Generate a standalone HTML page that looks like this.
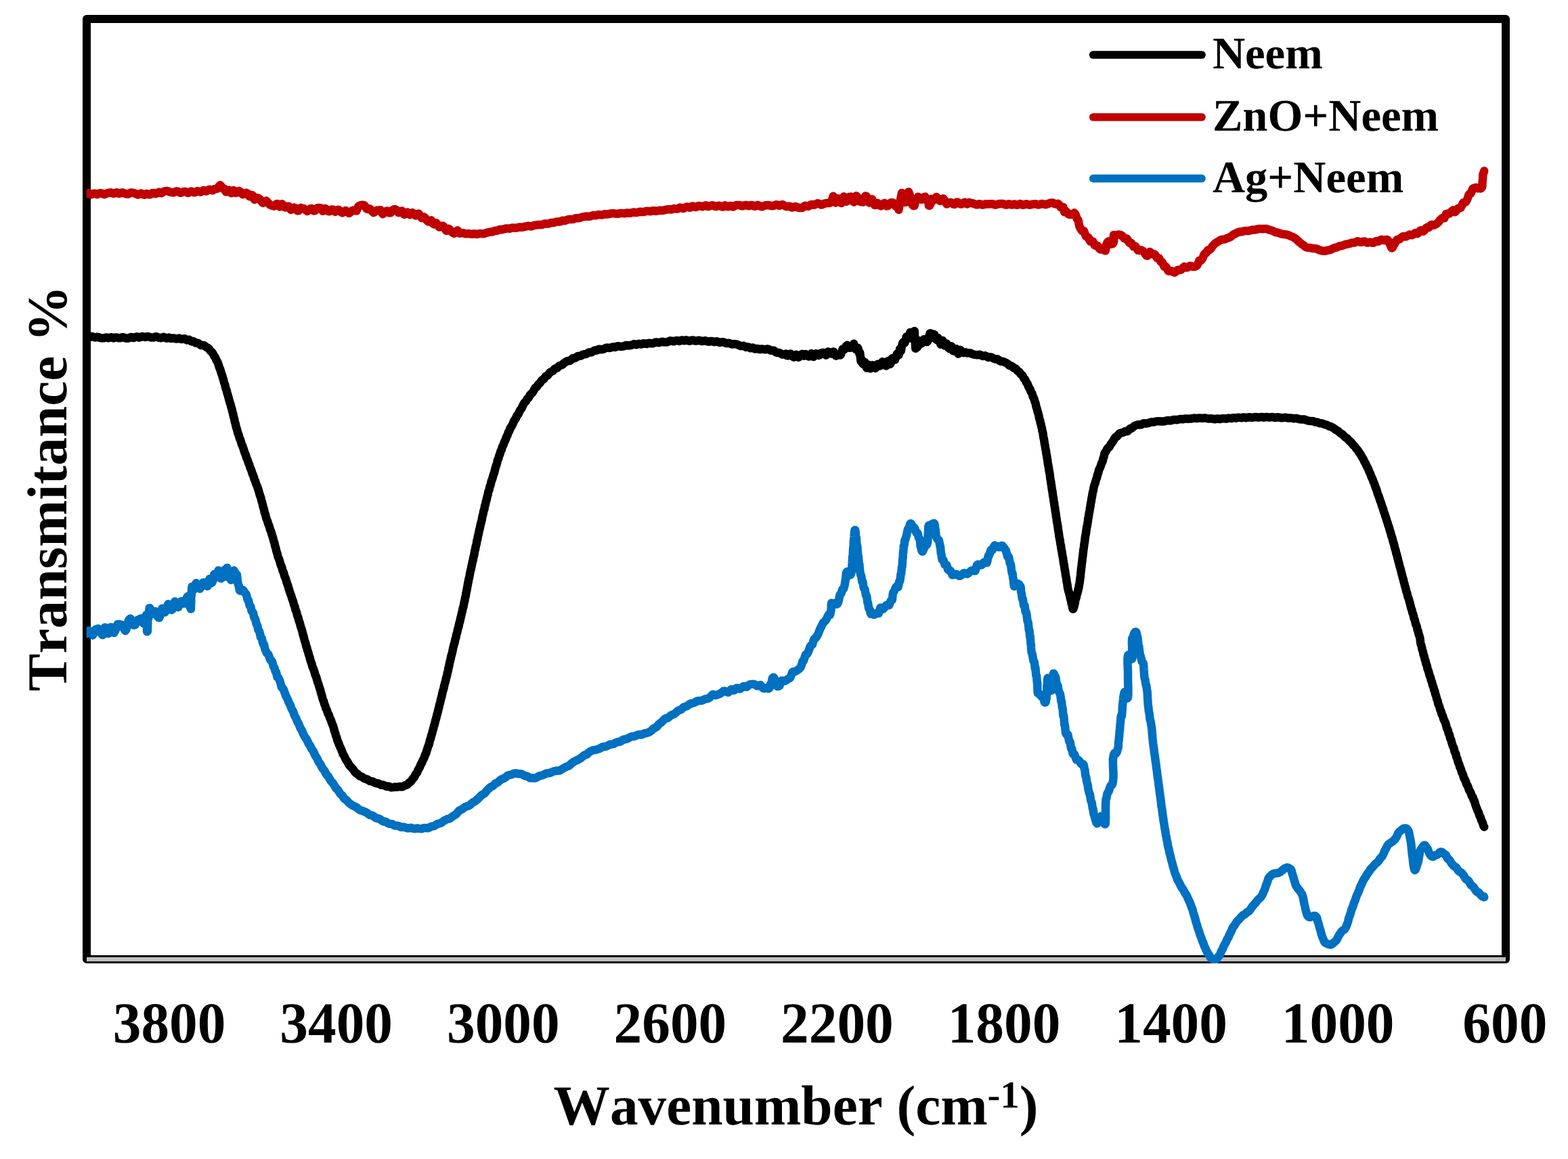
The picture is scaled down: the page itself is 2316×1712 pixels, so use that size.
<!DOCTYPE html>
<html lang="en"><head><meta charset="utf-8"><title>FTIR spectra</title>
<style>
html,body{margin:0;padding:0;background:#fff;}
body{width:2316px;height:1712px;overflow:hidden;}
svg{display:block;}
text{font-family:"Liberation Serif","DejaVu Serif",serif;font-weight:bold;fill:#000;font-kerning:none;font-variant-ligatures:none;text-rendering:geometricPrecision;}
.tick{font-size:83.33px;text-anchor:middle;}
.title{font-size:83.33px;text-anchor:middle;}
.leg{font-size:66.67px;}
.curve{fill:none;stroke-linejoin:round;stroke-linecap:round;stroke-width:12.5;}
</style></head>
<body>
<svg width="2316" height="1712" viewBox="0 0 2316 1712">
<defs><clipPath id="plot"><rect x="127.5" y="22" width="2103" height="1401"/></clipPath></defs>
<rect x="0" y="0" width="2316" height="1712" fill="#fff"/>
<rect x="128.00" y="28.00" width="2096.00" height="1389.00" fill="none" stroke="#000" stroke-width="12.00" stroke-linejoin="round"/>
<rect x="128" y="1413.9" width="2096" height="6.2" fill="#bfbfbf"/>
<g clip-path="url(#plot)">
<path class="curve" stroke="#c00000" d="M127.5,286.3 L127.7,286.2 L128.2,286.0 L129.1,285.7 L130.2,285.3 L131.6,285.2 L133.2,286.2 L134.9,287.3 L136.9,286.6 L138.9,285.7 L141.1,285.9 L143.3,287.2 L145.5,286.2 L147.7,285.3 L149.9,285.4 L152.0,286.5 L154.0,287.3 L155.8,286.5 L157.5,285.8 L159.2,285.1 L160.9,284.8 L162.6,284.6 L164.3,284.5 L165.9,285.2 L167.5,286.0 L169.2,285.6 L170.8,284.7 L172.4,284.3 L174.0,285.2 L175.7,286.0 L177.4,285.4 L179.0,284.7 L180.8,284.4 L182.5,285.1 L184.1,285.7 L185.6,286.4 L187.2,286.6 L188.8,286.7 L190.4,286.2 L192.0,285.1 L193.7,284.5 L195.3,284.7 L196.9,284.9 L198.6,285.3 L200.3,286.1 L201.9,286.9 L203.6,287.7 L205.3,287.1 L206.9,286.3 L208.6,285.6 L210.2,286.5 L211.8,287.3 L213.4,287.8 L215.0,287.0 L216.7,286.0 L218.4,286.7 L220.1,287.6 L221.7,287.3 L223.4,286.3 L225.0,285.3 L226.6,285.1 L228.3,285.7 L229.9,286.3 L231.5,285.6 L233.2,284.6 L234.8,283.8 L236.5,284.7 L238.2,285.3 L239.9,284.3 L241.6,283.2 L243.3,282.4 L245.1,282.2 L246.6,282.0 L248.2,282.3 L249.8,283.1 L251.4,283.9 L253.1,284.2 L254.8,284.3 L256.5,284.4 L258.2,283.7 L259.9,282.8 L261.6,282.4 L263.3,283.2 L265.0,284.0 L266.7,284.8 L268.4,284.4 L270.1,283.6 L271.7,282.9 L273.4,282.9 L275.0,283.7 L276.6,284.5 L278.1,285.0 L279.6,284.1 L281.1,283.2 L282.6,282.5 L284.4,283.4 L286.1,284.2 L287.9,284.2 L289.6,283.3 L291.2,282.3 L292.9,282.5 L294.5,283.1 L296.1,283.7 L297.6,282.9 L299.2,282.0 L300.7,281.0 L302.2,281.6 L303.6,282.4 L305.1,282.4 L306.9,281.2 L308.8,280.0 L310.6,279.9 L312.5,280.9 L314.2,281.3 L315.9,280.0 L317.4,279.0 L318.8,279.1 L320.1,279.0 L321.6,278.4 L322.8,276.4 L323.9,274.6 L325.1,273.5 L326.2,274.3 L327.3,276.1 L328.4,277.8 L329.7,278.4 L331.0,278.5 L332.6,281.5 L333.9,283.4 L335.2,282.9 L336.7,281.9 L338.3,280.7 L339.9,282.9 L341.6,285.2 L343.3,283.4 L345.0,281.1 L346.7,282.1 L348.4,284.9 L350.1,284.6 L351.7,283.4 L353.4,282.2 L355.2,283.2 L356.9,285.2 L358.6,287.3 L360.4,286.8 L362.1,285.9 L363.8,284.9 L365.5,285.7 L367.1,288.4 L368.6,290.2 L370.1,289.2 L371.7,288.1 L373.1,288.5 L374.5,292.2 L375.9,294.9 L377.2,294.0 L378.5,293.2 L379.9,292.3 L381.2,292.7 L382.6,293.4 L384.1,294.4 L385.6,296.6 L387.1,298.7 L388.5,299.8 L390.1,298.8 L391.7,297.9 L393.3,296.8 L395.1,298.5 L396.5,300.1 L398.0,301.7 L399.6,303.1 L401.2,303.6 L402.9,304.1 L404.6,304.6 L406.3,303.3 L408.0,301.6 L409.8,301.1 L411.6,303.6 L413.3,305.4 L415.1,303.2 L416.8,301.3 L418.5,303.7 L420.1,306.0 L421.8,306.4 L423.4,305.6 L425.0,304.8 L426.6,304.8 L428.2,307.3 L429.7,309.9 L431.3,309.0 L432.9,307.8 L434.5,306.6 L436.1,307.4 L437.7,309.4 L439.3,311.4 L441.0,311.2 L442.6,309.0 L444.2,307.0 L445.7,307.3 L447.3,307.7 L448.9,308.1 L450.6,309.4 L452.2,310.7 L453.8,312.0 L455.5,310.8 L457.1,309.4 L458.8,308.0 L460.4,307.9 L462.1,309.7 L463.7,311.4 L465.3,311.3 L467.0,309.3 L468.6,307.2 L470.2,307.1 L471.9,307.1 L473.6,307.2 L475.2,309.4 L476.9,311.8 L478.6,310.3 L480.2,307.9 L481.9,308.9 L483.6,310.6 L485.2,312.3 L486.9,312.3 L488.5,310.8 L490.2,309.4 L491.8,309.7 L493.5,311.3 L495.2,312.8 L496.9,311.9 L498.6,310.2 L500.3,309.8 L502.0,311.4 L503.8,313.1 L505.5,314.4 L507.3,313.3 L509.0,312.2 L510.7,311.1 L512.4,312.5 L514.0,313.7 L515.6,314.9 L517.2,313.9 L518.7,312.6 L520.2,311.3 L521.9,310.4 L523.5,310.8 L525.0,311.1 L526.5,311.4 L528.0,308.1 L529.4,304.8 L530.8,303.9 L532.2,303.4 L533.7,303.0 L535.2,302.8 L536.7,302.9 L538.1,303.3 L539.6,305.2 L541.0,307.6 L542.5,309.0 L544.0,308.6 L545.5,308.2 L547.0,308.9 L548.6,310.9 L550.2,312.7 L551.7,314.2 L553.4,313.2 L555.0,311.8 L556.7,310.8 L558.4,310.6 L560.2,310.5 L561.9,310.3 L563.6,313.2 L565.3,316.2 L567.0,315.0 L568.6,313.6 L570.2,312.1 L572.0,311.6 L573.7,313.2 L575.4,314.6 L577.0,314.4 L578.7,312.1 L580.3,310.0 L581.9,309.4 L583.6,309.0 L585.2,310.0 L586.9,312.0 L588.6,314.2 L590.3,313.9 L592.0,312.2 L593.6,311.4 L595.3,314.3 L597.0,317.0 L598.6,315.8 L600.2,313.9 L602.0,313.6 L603.8,315.4 L605.5,317.2 L607.3,316.1 L609.0,314.1 L610.8,315.3 L612.7,317.2 L614.1,318.4 L615.6,317.4 L617.0,316.4 L618.5,315.5 L620.0,317.8 L621.6,320.3 L623.1,322.0 L624.7,321.3 L626.3,320.6 L627.9,321.8 L629.5,324.0 L631.1,326.3 L632.7,327.4 L634.1,326.7 L635.6,326.1 L637.0,325.4 L638.5,327.5 L639.9,330.7 L641.4,331.4 L642.9,330.1 L644.4,329.4 L645.9,331.4 L647.4,333.5 L648.9,335.5 L650.4,335.2 L651.9,334.4 L653.4,333.6 L654.8,333.9 L656.3,336.2 L657.7,338.4 L659.4,340.9 L661.1,339.4 L662.7,337.7 L664.4,339.2 L666.0,341.1 L667.6,343.0 L669.3,344.0 L670.9,344.8 L672.5,343.6 L674.1,341.9 L675.8,340.2 L677.4,342.5 L679.0,344.7 L680.7,344.4 L682.4,344.3 L684.0,344.1 L685.7,344.7 L687.4,345.2 L689.1,345.4 L690.8,345.2 L692.4,345.0 L694.1,345.4 L695.8,345.8 L697.4,345.8 L699.0,345.5 L700.8,345.2 L702.5,345.7 L704.3,346.0 L706.0,345.6 L707.7,345.2 L709.4,344.9 L711.1,345.1 L712.9,345.2 L714.7,345.2 L716.5,344.6 L718.0,344.1 L719.4,343.6 L720.9,343.3 L722.3,342.9 L723.8,342.6 L725.4,342.6 L726.9,342.6 L728.4,341.9 L730.0,341.1 L731.6,340.8 L733.2,340.9 L734.8,340.6 L736.4,339.8 L738.1,338.9 L739.8,339.0 L741.5,339.2 L743.0,338.9 L744.5,338.4 L746.1,337.8 L747.7,337.4 L749.3,337.5 L750.9,337.6 L752.6,337.7 L754.3,337.2 L756.0,336.6 L757.7,336.5 L759.4,336.6 L761.1,336.8 L762.8,336.6 L764.6,336.2 L766.2,335.7 L767.9,335.5 L769.6,335.7 L771.3,335.7 L772.9,335.3 L774.5,335.0 L776.0,334.6 L777.6,334.2 L779.0,334.0 L780.9,333.8 L782.6,334.1 L784.4,334.4 L786.1,333.9 L787.8,333.3 L789.4,332.8 L791.1,332.6 L792.7,332.3 L794.3,332.1 L795.9,332.0 L797.5,332.0 L799.1,332.0 L800.8,331.9 L802.4,331.3 L804.1,330.6 L805.7,330.5 L807.4,330.5 L809.1,330.5 L810.7,330.3 L812.4,329.7 L814.1,329.0 L815.7,328.9 L817.4,328.9 L819.1,328.6 L820.7,328.0 L822.4,327.5 L824.1,327.5 L825.7,327.5 L827.4,327.3 L829.1,326.5 L830.7,325.8 L832.4,325.9 L834.1,326.0 L835.7,325.5 L837.4,324.9 L839.1,324.3 L840.7,324.1 L842.4,324.1 L844.1,324.1 L845.7,323.9 L847.4,323.4 L849.1,322.8 L850.7,322.2 L852.4,322.2 L854.1,322.2 L855.7,322.0 L857.4,321.5 L859.1,320.9 L860.7,320.4 L862.4,320.1 L864.1,319.8 L865.7,319.6 L867.4,319.7 L869.1,319.7 L870.7,319.7 L872.4,319.2 L874.1,318.6 L875.7,318.1 L877.4,318.2 L879.1,318.3 L880.8,318.1 L882.4,317.6 L884.1,317.1 L885.8,317.2 L887.4,317.4 L889.1,317.4 L890.8,316.9 L892.4,316.4 L894.1,316.3 L895.8,316.6 L897.4,316.6 L899.1,316.2 L900.8,315.7 L902.4,315.4 L904.1,315.3 L905.8,315.2 L907.4,315.3 L909.1,315.6 L910.8,315.8 L912.4,315.8 L914.1,315.5 L915.8,315.2 L917.4,314.9 L919.1,314.9 L920.8,315.1 L922.4,315.3 L924.1,314.9 L925.8,314.4 L927.4,314.5 L929.1,314.8 L930.8,314.9 L932.4,314.4 L934.1,313.9 L935.8,313.5 L937.5,313.8 L939.1,314.0 L940.8,313.9 L942.5,313.5 L944.1,313.0 L945.8,312.8 L947.5,313.0 L949.1,313.1 L950.8,313.0 L952.5,312.5 L954.1,312.1 L955.8,311.7 L957.5,311.9 L959.1,312.1 L960.8,312.3 L962.5,311.8 L964.1,311.3 L965.8,311.2 L967.5,311.5 L969.1,311.8 L970.8,311.5 L972.5,311.1 L974.1,310.7 L975.8,310.8 L977.5,311.0 L979.1,310.9 L980.8,310.5 L982.5,310.0 L984.1,309.7 L985.8,309.4 L987.5,309.1 L989.1,309.3 L990.8,309.5 L992.5,309.3 L994.1,308.6 L995.8,308.1 L997.5,308.4 L999.1,308.6 L1000.8,308.6 L1002.5,307.5 L1004.1,306.5 L1005.8,307.0 L1007.5,307.6 L1009.1,308.1 L1010.8,307.3 L1012.5,306.4 L1014.1,305.5 L1015.8,305.8 L1017.5,306.3 L1019.1,306.8 L1020.8,305.7 L1022.5,304.4 L1024.1,304.7 L1025.8,305.6 L1027.5,306.1 L1029.2,305.3 L1030.8,304.5 L1032.5,303.9 L1034.2,304.4 L1035.8,304.8 L1037.5,305.3 L1039.2,304.8 L1040.8,303.9 L1042.5,303.2 L1044.2,304.1 L1045.8,305.1 L1047.5,304.7 L1049.2,304.1 L1050.8,303.4 L1052.5,303.2 L1054.2,303.9 L1055.8,304.6 L1057.5,305.2 L1059.2,304.5 L1060.8,303.9 L1062.5,303.8 L1064.2,304.5 L1065.8,305.2 L1067.5,305.5 L1069.2,304.5 L1070.8,303.4 L1072.5,304.2 L1074.2,305.1 L1075.8,305.3 L1077.5,304.6 L1079.2,303.9 L1080.8,304.4 L1082.5,305.5 L1084.2,305.0 L1085.8,303.8 L1087.5,303.1 L1089.2,303.0 L1090.9,302.9 L1092.5,302.9 L1094.2,303.7 L1095.9,304.4 L1097.5,304.2 L1099.2,303.5 L1100.9,302.9 L1102.5,303.0 L1104.2,303.6 L1105.9,304.3 L1107.5,303.8 L1109.2,303.0 L1110.9,303.0 L1112.5,303.9 L1114.2,304.8 L1115.9,304.5 L1117.5,303.5 L1119.2,302.8 L1120.9,303.6 L1122.5,304.4 L1124.2,305.2 L1125.9,305.2 L1127.5,304.5 L1129.2,303.8 L1130.9,303.3 L1132.6,303.2 L1134.3,303.1 L1136.1,303.2 L1137.9,303.7 L1139.6,304.1 L1141.4,304.3 L1143.1,303.6 L1144.8,303.0 L1146.5,302.3 L1148.2,302.7 L1149.8,303.3 L1151.3,303.8 L1152.8,303.3 L1154.2,302.5 L1156.2,302.3 L1158.0,303.4 L1159.8,304.4 L1161.4,305.1 L1163.1,305.0 L1164.9,304.8 L1166.7,304.8 L1168.3,305.8 L1170.0,306.6 L1171.7,306.0 L1173.5,305.4 L1175.2,305.1 L1177.0,305.8 L1178.8,306.5 L1180.6,307.1 L1182.4,307.1 L1184.2,307.0 L1185.9,306.4 L1187.5,305.1 L1189.1,303.7 L1190.8,304.2 L1192.5,304.6 L1194.1,304.8 L1195.8,303.7 L1197.5,302.5 L1199.2,302.0 L1200.9,302.3 L1202.6,302.7 L1204.2,301.8 L1205.9,301.1 L1207.7,300.3 L1209.5,300.8 L1211.3,301.7 L1213.1,302.6 L1214.9,302.0 L1216.7,301.2 L1218.4,300.4 L1220.0,300.2 L1221.6,300.0 L1223.0,300.0 L1224.2,300.1 L1225.9,299.7 L1227.3,298.4 L1228.5,295.8 L1229.6,293.5 L1230.7,289.8 L1231.7,291.5 L1233.0,294.6 L1234.1,299.6 L1235.3,298.1 L1236.7,294.8 L1238.0,293.2 L1239.5,295.5 L1241.1,297.9 L1242.8,300.1 L1244.5,295.2 L1246.4,290.3 L1248.2,291.9 L1250.0,297.7 L1251.5,296.8 L1253.1,293.8 L1254.7,290.8 L1256.4,290.6 L1258.0,293.8 L1259.7,297.1 L1261.4,298.6 L1263.1,293.9 L1264.8,289.3 L1266.4,291.0 L1268.0,294.2 L1269.7,297.6 L1271.4,298.1 L1273.1,298.3 L1274.8,298.5 L1276.5,294.6 L1278.1,289.5 L1279.7,289.8 L1281.3,293.0 L1282.7,296.2 L1284.0,299.4 L1285.5,298.2 L1286.8,295.4 L1288.0,294.2 L1289.2,296.7 L1290.5,299.9 L1292.0,302.9 L1293.3,302.9 L1294.8,301.6 L1296.3,300.1 L1297.9,301.4 L1299.6,303.4 L1301.3,304.3 L1303.0,302.7 L1304.7,301.1 L1306.4,300.0 L1308.0,302.2 L1309.6,304.4 L1311.3,304.1 L1313.0,302.1 L1314.7,300.2 L1316.4,299.2 L1318.1,299.3 L1319.7,300.0 L1321.2,302.3 L1322.7,304.5 L1324.0,304.9 L1325.8,304.1 L1327.4,309.9 L1328.9,301.4 L1330.4,293.0 L1332.0,284.9 L1333.5,288.8 L1335.1,293.8 L1336.8,299.0 L1338.5,298.5 L1340.2,291.0 L1342.0,283.4 L1343.6,287.4 L1345.3,294.5 L1347.1,301.7 L1348.9,304.0 L1350.7,303.8 L1352.5,295.4 L1354.3,293.0 L1356.0,290.7 L1357.7,291.9 L1359.5,293.7 L1361.3,294.7 L1363.1,292.8 L1364.8,291.1 L1366.4,290.6 L1367.8,293.2 L1369.0,295.9 L1370.1,296.3 L1370.9,294.9 L1371.5,299.9 L1371.9,303.5 L1372.4,303.7 L1373.0,303.7 L1373.6,302.3 L1374.1,300.7 L1374.5,301.5 L1375.1,297.8 L1375.9,293.8 L1377.0,294.3 L1378.2,295.2 L1379.7,295.4 L1381.3,293.2 L1383.1,290.9 L1384.9,292.7 L1386.7,294.8 L1388.4,296.8 L1390.0,295.8 L1391.7,294.4 L1393.4,293.3 L1395.0,296.1 L1396.5,298.8 L1398.2,301.3 L1400.0,300.6 L1401.5,299.9 L1403.1,299.0 L1404.7,299.1 L1406.4,300.3 L1408.1,301.6 L1409.9,301.9 L1411.6,300.2 L1413.3,298.5 L1415.0,298.9 L1416.7,300.1 L1418.3,301.3 L1420.0,301.6 L1421.7,300.6 L1423.3,299.6 L1425.0,298.9 L1426.7,300.2 L1428.3,301.5 L1430.0,300.7 L1431.6,299.0 L1433.3,299.8 L1434.9,300.1 L1436.5,300.3 L1438.1,300.7 L1439.7,301.4 L1441.4,302.2 L1443.2,302.4 L1445.0,301.8 L1446.5,301.3 L1448.0,301.5 L1449.6,302.1 L1451.1,302.7 L1452.8,302.4 L1454.4,301.8 L1456.1,301.4 L1457.8,301.4 L1459.5,301.5 L1461.3,301.4 L1463.0,301.3 L1464.8,301.2 L1466.5,301.6 L1468.3,302.1 L1470.0,302.7 L1471.6,302.3 L1473.2,301.9 L1474.8,301.4 L1476.5,301.1 L1478.1,301.1 L1479.8,301.1 L1481.5,301.1 L1483.1,301.8 L1484.8,302.5 L1486.5,302.6 L1488.2,302.0 L1489.9,301.3 L1491.6,301.7 L1493.3,302.3 L1495.0,302.4 L1496.7,301.9 L1498.3,301.5 L1500.0,302.1 L1501.7,302.8 L1503.4,302.4 L1505.1,301.7 L1506.9,301.1 L1508.6,301.8 L1510.4,302.7 L1512.1,302.5 L1513.9,301.9 L1515.6,301.3 L1517.4,301.6 L1519.1,302.3 L1520.8,302.8 L1522.4,302.4 L1524.0,302.0 L1525.6,301.7 L1527.1,301.4 L1528.6,301.4 L1530.0,301.3 L1531.9,302.1 L1533.7,302.6 L1535.5,302.1 L1537.1,301.5 L1538.8,301.0 L1540.4,301.2 L1541.9,301.6 L1543.5,302.0 L1545.0,302.2 L1546.9,301.5 L1548.8,300.7 L1550.6,299.9 L1552.4,299.6 L1554.2,299.4 L1556.0,300.1 L1557.5,301.1 L1559.2,301.6 L1560.8,301.6 L1562.4,300.9 L1564.0,302.0 L1565.5,304.3 L1566.9,306.3 L1568.1,306.0 L1569.4,305.8 L1570.4,305.9 L1571.2,309.3 L1572.1,313.2 L1573.1,312.7 L1574.4,312.0 L1575.8,313.4 L1577.5,315.7 L1579.3,316.8 L1581.3,317.0 L1583.2,316.7 L1585.0,315.4 L1586.7,314.5 L1588.2,316.3 L1589.2,318.4 L1590.0,320.8 L1590.7,323.2 L1591.4,323.7 L1591.9,324.3 L1592.5,324.9 L1593.0,327.7 L1593.6,330.7 L1594.2,333.7 L1594.9,335.5 L1595.7,337.2 L1596.5,338.4 L1597.3,339.7 L1598.2,341.0 L1599.1,341.3 L1600.1,341.3 L1601.0,341.3 L1602.0,343.9 L1603.0,346.4 L1604.0,349.0 L1605.1,349.9 L1606.1,350.1 L1607.1,350.3 L1608.2,351.9 L1609.4,354.8 L1610.6,356.8 L1611.8,356.8 L1613.1,356.8 L1614.3,356.7 L1615.6,359.4 L1616.8,362.2 L1618.1,362.8 L1619.4,362.8 L1620.7,362.7 L1622.1,364.2 L1623.6,366.9 L1625.2,368.4 L1626.7,367.9 L1628.2,367.3 L1629.6,368.3 L1630.9,369.6 L1631.9,370.2 L1632.7,370.3 L1633.2,368.6 L1633.6,365.1 L1633.8,362.4 L1634.1,361.7 L1634.4,361.2 L1634.9,359.6 L1635.7,357.9 L1637.2,356.7 L1639.2,357.7 L1641.2,360.7 L1643.1,360.3 L1644.4,359.2 L1645.0,357.3 L1645.2,356.3 L1645.0,355.7 L1644.8,353.8 L1644.8,349.9 L1645.0,347.0 L1645.7,347.4 L1646.8,348.2 L1648.2,348.3 L1649.9,347.3 L1651.7,346.5 L1653.7,346.7 L1655.6,347.3 L1657.5,348.4 L1659.2,350.4 L1660.7,352.2 L1662.2,352.9 L1663.4,352.7 L1664.6,352.6 L1665.8,354.5 L1666.9,356.6 L1668.2,358.7 L1669.4,359.1 L1670.6,358.8 L1671.8,360.1 L1673.1,362.4 L1674.3,364.3 L1675.6,363.7 L1676.9,363.7 L1678.2,365.7 L1679.6,367.8 L1681.0,369.8 L1682.5,369.9 L1684.0,369.6 L1685.4,369.3 L1686.8,369.9 L1688.2,370.8 L1689.8,372.4 L1691.5,374.9 L1693.1,377.3 L1694.5,378.0 L1695.7,377.1 L1696.9,373.3 L1698.2,371.9 L1699.1,372.6 L1700.2,373.8 L1701.5,375.4 L1703.0,375.3 L1704.5,375.2 L1706.1,376.3 L1707.7,378.8 L1709.2,381.3 L1710.7,381.8 L1712.0,381.5 L1713.2,383.8 L1714.5,386.6 L1715.6,387.1 L1716.6,387.2 L1717.5,388.8 L1718.5,391.4 L1719.6,393.7 L1720.7,393.8 L1722.0,394.0 L1723.3,395.8 L1724.6,398.4 L1726.0,400.6 L1727.4,400.6 L1729.0,400.3 L1730.7,400.3 L1732.0,401.2 L1733.4,402.0 L1734.8,402.7 L1736.4,401.6 L1738.0,399.6 L1739.6,398.7 L1741.2,398.8 L1742.9,399.0 L1744.5,398.4 L1746.1,396.7 L1747.7,395.1 L1749.3,393.8 L1750.7,394.5 L1752.5,395.4 L1754.2,395.1 L1756.0,393.9 L1757.6,392.8 L1759.3,393.0 L1761.0,393.6 L1762.6,394.1 L1764.2,394.1 L1765.7,393.5 L1766.9,392.8 L1768.1,392.0 L1769.2,390.0 L1770.3,387.5 L1771.3,385.1 L1772.4,385.1 L1773.5,385.0 L1774.5,384.1 L1775.5,382.6 L1776.6,380.9 L1777.6,378.3 L1778.7,375.7 L1779.8,374.3 L1780.9,374.3 L1782.0,373.1 L1783.2,370.6 L1784.4,369.4 L1785.6,369.1 L1786.9,368.8 L1788.1,367.6 L1789.3,366.4 L1790.6,363.9 L1791.9,362.6 L1793.1,361.2 L1794.4,359.9 L1795.7,358.9 L1796.9,358.1 L1798.2,357.3 L1799.5,356.7 L1801.2,355.5 L1802.8,354.5 L1804.5,354.0 L1806.3,353.8 L1808.0,353.6 L1809.6,353.2 L1811.3,352.4 L1812.9,351.6 L1814.5,351.2 L1816.0,350.6 L1817.4,350.0 L1818.7,349.0 L1820.0,347.8 L1821.4,346.7 L1822.7,346.0 L1824.1,345.5 L1825.5,344.7 L1827.0,343.8 L1828.5,343.1 L1829.9,342.7 L1831.4,342.5 L1833.0,342.3 L1834.5,342.3 L1836.1,341.8 L1837.8,341.3 L1839.4,340.9 L1841.1,340.9 L1842.8,340.9 L1844.5,340.9 L1846.1,340.6 L1847.7,340.1 L1849.3,339.6 L1851.0,339.5 L1852.7,339.4 L1854.5,339.3 L1856.2,338.8 L1857.9,338.4 L1859.7,338.0 L1861.4,337.9 L1863.1,338.1 L1864.8,338.2 L1866.4,338.0 L1868.0,337.9 L1869.6,337.9 L1871.3,338.2 L1872.9,338.8 L1874.5,339.5 L1876.1,339.8 L1877.7,340.3 L1879.2,340.7 L1880.7,341.4 L1882.3,342.2 L1883.8,343.0 L1885.4,343.3 L1887.1,343.5 L1888.7,344.1 L1890.4,344.7 L1892.1,345.3 L1893.8,345.7 L1895.6,346.1 L1897.3,346.2 L1899.1,346.4 L1900.8,346.6 L1902.4,347.1 L1904.1,347.8 L1905.6,348.6 L1907.1,349.1 L1908.7,349.6 L1910.2,350.3 L1911.6,351.2 L1913.0,352.2 L1914.4,353.1 L1915.7,354.3 L1917.0,355.6 L1918.3,356.8 L1919.6,357.9 L1921.0,359.1 L1922.5,360.3 L1923.8,361.3 L1925.2,362.1 L1926.6,363.3 L1928.0,364.5 L1929.6,365.4 L1931.2,365.8 L1932.9,365.9 L1934.7,366.0 L1936.5,366.4 L1938.4,366.8 L1940.2,367.0 L1942.1,367.1 L1943.7,367.2 L1945.3,367.7 L1947.0,368.5 L1948.6,369.3 L1950.3,369.8 L1952.0,370.3 L1953.7,370.6 L1955.4,370.8 L1957.1,370.8 L1958.6,370.4 L1960.2,369.8 L1961.9,369.6 L1963.5,369.3 L1965.1,368.9 L1966.8,368.2 L1968.4,367.4 L1970.0,366.5 L1971.6,366.0 L1973.1,365.7 L1974.6,365.4 L1976.2,364.6 L1977.8,363.8 L1979.3,363.4 L1980.8,363.2 L1982.3,363.0 L1983.8,362.4 L1985.4,361.8 L1987.1,361.1 L1988.6,360.7 L1990.2,360.5 L1991.8,360.2 L1993.4,359.9 L1995.1,359.2 L1996.8,358.6 L1998.5,358.4 L2000.2,358.5 L2002.0,358.1 L2003.7,357.0 L2005.4,356.3 L2007.1,356.9 L2008.8,357.5 L2010.5,357.7 L2012.2,357.2 L2013.9,356.8 L2015.6,356.6 L2017.3,357.6 L2019.0,358.5 L2020.7,358.4 L2022.3,357.7 L2024.0,357.8 L2025.6,358.3 L2027.1,358.7 L2028.9,358.6 L2030.7,357.5 L2032.5,356.3 L2034.2,356.3 L2035.9,356.7 L2037.6,355.7 L2039.2,354.4 L2040.7,353.8 L2042.1,354.3 L2044.2,355.1 L2046.2,354.4 L2048.0,354.0 L2049.6,354.3 L2050.7,356.1 L2051.7,358.5 L2052.6,359.6 L2053.4,361.0 L2054.2,363.7 L2055.0,365.7 L2055.9,366.6 L2056.9,365.6 L2057.8,363.4 L2058.8,361.3 L2059.8,360.5 L2060.9,358.5 L2062.1,356.0 L2063.4,354.2 L2064.6,353.7 L2066.0,353.4 L2067.5,353.2 L2069.0,351.7 L2070.5,350.2 L2072.1,349.2 L2073.6,349.2 L2075.2,349.4 L2076.9,349.4 L2078.6,348.5 L2080.3,347.6 L2082.0,346.6 L2083.8,346.9 L2085.5,347.3 L2087.1,346.6 L2088.7,345.4 L2090.2,344.1 L2091.7,344.6 L2093.3,345.2 L2094.8,344.2 L2096.3,342.4 L2097.8,340.5 L2099.3,340.3 L2100.7,341.1 L2102.2,341.8 L2103.6,340.7 L2105.0,338.7 L2106.4,336.8 L2107.8,335.9 L2109.2,336.4 L2110.5,336.1 L2111.9,334.4 L2113.3,332.7 L2114.7,331.8 L2116.2,332.3 L2117.8,332.8 L2119.4,331.9 L2121.0,331.1 L2122.5,330.2 L2124.1,328.6 L2125.7,326.8 L2127.2,324.8 L2128.5,323.7 L2129.7,322.5 L2131.0,321.7 L2132.2,322.1 L2133.4,322.2 L2134.6,319.2 L2135.8,316.2 L2137.1,315.8 L2138.4,315.7 L2139.7,315.7 L2141.2,315.2 L2142.8,313.5 L2144.4,312.0 L2146.0,310.6 L2147.6,311.9 L2149.2,313.2 L2150.7,311.8 L2152.2,309.4 L2153.6,307.7 L2154.9,307.6 L2156.2,307.4 L2157.4,307.1 L2158.6,304.8 L2159.8,302.4 L2161.0,299.8 L2162.2,299.0 L2163.1,299.1 L2164.1,299.1 L2165.0,298.2 L2166.0,296.7 L2166.9,295.1 L2167.8,292.7 L2168.7,290.2 L2169.6,287.8 L2170.5,286.6 L2171.3,286.2 L2172.2,285.9 L2173.3,284.0 L2174.3,281.0 L2175.4,278.6 L2176.4,278.1 L2177.5,277.8 L2178.5,277.5 L2179.7,277.0 L2181.2,277.5 L2182.8,278.3 L2184.4,278.1 L2185.9,278.1 L2187.2,278.4 L2187.8,277.9 L2188.2,277.1 L2188.6,276.9 L2189.0,276.6 L2189.3,275.1 L2189.5,271.5 L2189.7,267.9 L2189.8,267.1 L2190.0,266.3 L2190.1,264.0 L2190.2,260.8 L2190.4,257.8 L2190.5,257.2 L2190.7,257.0 L2190.9,256.9 L2192.2,252.5"/>
<path class="curve" stroke="#000000" d="M127.5,497.0 L127.7,497.1 L128.2,497.2 L129.0,497.3 L130.1,497.5 L131.5,497.8 L133.1,497.8 L134.8,497.0 L136.7,497.2 L138.8,498.1 L140.9,498.4 L143.1,497.8 L145.3,498.0 L147.5,499.0 L149.7,499.3 L151.8,499.4 L153.9,499.2 L155.8,498.6 L157.5,498.4 L159.2,499.2 L160.8,499.2 L162.5,498.6 L164.2,498.3 L165.8,498.8 L167.5,499.4 L169.1,499.0 L170.8,498.4 L172.4,498.5 L174.1,498.9 L175.8,499.3 L177.4,499.3 L179.1,498.8 L180.8,498.2 L182.5,498.3 L184.1,498.9 L185.8,499.5 L187.5,499.7 L189.1,499.7 L190.7,499.3 L192.3,498.3 L194.0,497.9 L195.6,498.5 L197.2,499.1 L198.8,498.5 L200.4,497.9 L202.1,497.3 L203.7,497.8 L205.3,498.6 L207.0,498.3 L208.6,497.4 L210.3,496.9 L211.9,497.4 L213.5,497.9 L215.2,497.9 L216.8,497.3 L218.4,497.0 L220.0,497.6 L221.7,498.1 L223.3,498.5 L225.0,498.5 L226.6,498.5 L228.3,497.9 L229.9,497.2 L231.6,497.5 L233.3,498.2 L234.9,498.8 L236.6,499.0 L238.2,499.2 L239.9,498.6 L241.5,497.8 L243.1,498.4 L244.7,499.1 L246.3,499.8 L247.9,499.3 L249.5,498.6 L251.0,499.3 L252.6,500.0 L254.3,499.8 L256.1,499.4 L257.9,499.6 L259.6,500.5 L261.3,500.5 L263.0,500.0 L264.7,499.6 L266.4,500.4 L268.1,501.1 L269.7,500.8 L271.3,500.5 L272.9,500.3 L274.5,501.5 L276.1,502.5 L277.6,501.9 L279.3,501.8 L281.0,503.2 L282.7,504.4 L284.4,504.0 L286.1,504.3 L287.7,505.5 L289.2,506.6 L290.8,506.8 L292.2,506.8 L293.7,507.6 L295.1,508.7 L296.9,510.1 L298.7,510.1 L300.4,510.1 L302.1,510.6 L303.6,511.8 L305.1,513.1 L306.6,513.6 L308.1,514.5 L309.4,516.3 L310.7,518.1 L311.8,519.3 L313.0,520.2 L314.1,521.7 L315.1,523.5 L316.1,525.5 L316.9,526.7 L317.8,527.7 L318.6,529.4 L319.4,531.7 L320.3,533.0 L321.1,534.4 L321.7,535.8 L322.3,537.3 L322.9,539.2 L323.5,541.2 L324.1,543.2 L324.7,544.5 L325.3,545.6 L325.9,547.7 L326.5,549.8 L327.0,551.6 L327.6,552.9 L328.1,554.3 L328.6,556.2 L329.0,557.9 L329.5,559.1 L329.9,560.4 L330.4,562.0 L330.8,563.9 L331.2,565.5 L331.7,566.8 L332.2,568.0 L332.6,570.1 L333.1,572.3 L333.6,574.0 L334.0,575.1 L334.4,576.2 L334.9,577.5 L335.3,579.4 L335.8,581.3 L336.2,582.7 L336.7,583.9 L337.1,585.5 L337.6,587.6 L338.1,589.4 L338.5,591.1 L339.0,592.8 L339.5,594.3 L339.9,595.8 L340.4,596.9 L340.9,598.5 L341.3,600.6 L341.7,602.3 L342.2,603.2 L342.6,604.9 L343.0,606.9 L343.4,608.7 L343.8,609.7 L344.2,611.2 L344.6,613.2 L345.0,615.2 L345.4,616.7 L345.8,617.8 L346.2,619.3 L346.5,621.3 L346.9,623.3 L347.3,624.4 L347.7,625.6 L348.1,627.6 L348.5,629.5 L348.9,631.2 L349.3,632.3 L349.7,633.3 L350.1,634.6 L350.6,636.7 L351.1,638.8 L351.6,640.3 L352.1,641.4 L352.7,642.9 L353.2,645.0 L353.7,646.8 L354.2,648.0 L354.8,649.1 L355.3,650.5 L355.9,652.5 L356.5,654.5 L357.0,656.2 L357.6,657.4 L358.1,658.5 L358.6,660.0 L359.2,661.5 L359.7,663.1 L360.3,664.9 L360.8,666.8 L361.4,668.5 L361.9,669.7 L362.5,670.9 L363.1,672.3 L363.6,674.5 L364.2,676.4 L364.8,677.6 L365.4,678.8 L365.9,680.2 L366.5,682.2 L367.1,684.1 L367.6,685.2 L368.2,686.3 L368.7,687.9 L369.3,690.1 L369.9,691.7 L370.4,692.8 L371.0,693.9 L371.6,695.7 L372.2,697.7 L372.7,699.7 L373.3,700.7 L373.9,701.8 L374.4,703.3 L375.0,705.2 L375.5,707.0 L376.0,708.6 L376.6,709.6 L377.1,710.9 L377.6,712.7 L378.2,714.7 L378.8,716.0 L379.3,717.2 L379.9,718.6 L380.4,720.1 L381.0,721.7 L381.5,723.3 L382.0,724.9 L382.5,726.7 L383.1,728.7 L383.6,730.7 L384.1,732.1 L384.6,733.4 L385.1,734.6 L385.6,736.6 L386.0,738.7 L386.5,740.2 L386.9,741.4 L387.3,742.5 L387.7,744.4 L388.2,746.5 L388.6,748.3 L389.0,749.5 L389.4,750.7 L389.9,752.3 L390.3,754.4 L390.7,756.6 L391.2,758.0 L391.7,759.2 L392.1,760.4 L392.6,762.4 L393.1,764.4 L393.6,766.3 L394.1,767.4 L394.6,768.5 L395.2,770.2 L395.7,772.4 L396.2,773.8 L396.8,774.9 L397.3,776.4 L397.9,778.0 L398.5,780.1 L399.0,782.3 L399.6,783.4 L400.1,784.5 L400.6,786.0 L401.1,788.0 L401.7,789.9 L402.1,791.3 L402.6,792.5 L403.1,794.0 L403.6,796.1 L404.1,798.1 L404.5,799.6 L405.0,800.8 L405.4,802.0 L405.8,803.9 L406.2,806.0 L406.7,807.8 L407.1,809.0 L407.5,810.3 L407.9,812.4 L408.4,814.4 L408.8,815.7 L409.2,816.9 L409.7,818.1 L410.1,820.1 L410.6,822.3 L411.2,823.7 L411.7,824.7 L412.2,826.1 L412.7,827.6 L413.2,829.2 L413.7,831.1 L414.3,833.0 L414.8,834.8 L415.3,835.9 L415.9,837.1 L416.5,838.7 L417.0,840.8 L417.6,843.0 L418.1,844.2 L418.6,845.1 L419.0,846.1 L419.5,848.0 L420.0,849.8 L420.5,851.6 L421.1,852.7 L421.6,853.8 L422.1,855.4 L422.6,857.0 L423.2,858.9 L423.7,860.8 L424.3,862.6 L424.8,863.8 L425.3,864.9 L425.9,867.1 L426.4,869.2 L427.0,870.8 L427.5,872.5 L428.0,874.1 L428.6,875.7 L429.1,877.3 L429.6,878.5 L430.1,879.6 L430.6,881.4 L431.1,883.3 L431.6,885.0 L432.1,886.2 L432.6,887.3 L433.1,888.7 L433.6,890.8 L434.1,892.8 L434.6,894.2 L435.1,895.1 L435.6,896.5 L436.0,898.7 L436.5,900.8 L437.0,901.9 L437.5,903.0 L438.0,904.2 L438.5,906.2 L438.9,908.2 L439.4,910.1 L439.9,911.1 L440.4,912.0 L440.8,913.8 L441.3,915.8 L441.7,917.3 L442.2,918.6 L442.6,919.7 L443.1,921.3 L443.6,923.4 L444.1,925.4 L444.6,927.0 L445.1,928.0 L445.5,929.4 L446.0,930.9 L446.5,932.8 L446.9,934.8 L447.4,936.9 L447.8,938.2 L448.3,939.3 L448.7,941.1 L449.2,943.1 L449.6,944.9 L450.1,946.4 L450.5,947.8 L450.9,948.9 L451.4,950.3 L451.8,952.2 L452.2,954.1 L452.6,955.1 L453.1,956.2 L453.6,958.4 L454.1,960.5 L454.6,961.6 L455.0,962.5 L455.5,964.5 L455.9,966.5 L456.4,967.9 L456.8,969.1 L457.3,970.3 L457.7,972.1 L458.2,974.0 L458.7,975.8 L459.1,977.0 L459.6,978.3 L460.2,979.6 L460.6,981.5 L461.1,983.5 L461.6,985.2 L462.1,986.2 L462.7,987.3 L463.2,988.8 L463.7,990.3 L464.3,991.8 L464.8,993.7 L465.3,995.8 L465.9,997.6 L466.4,998.4 L467.0,999.8 L467.5,1001.4 L468.0,1003.3 L468.6,1005.3 L469.1,1007.3 L469.6,1008.7 L470.2,1010.0 L470.6,1011.2 L471.1,1013.1 L471.6,1015.0 L472.1,1016.4 L472.5,1017.6 L473.0,1018.7 L473.5,1020.8 L473.9,1022.9 L474.4,1024.6 L474.9,1025.6 L475.3,1027.0 L475.8,1029.1 L476.3,1031.0 L476.7,1032.6 L477.2,1034.0 L477.7,1035.1 L478.2,1036.1 L478.7,1038.0 L479.2,1040.1 L479.7,1041.2 L480.2,1042.2 L480.8,1044.4 L481.4,1046.3 L482.0,1047.4 L482.6,1048.5 L483.2,1050.3 L483.9,1052.3 L484.5,1054.3 L485.2,1055.2 L485.8,1056.1 L486.4,1058.1 L487.1,1060.0 L487.7,1061.6 L488.3,1062.6 L488.9,1064.1 L489.6,1066.2 L490.2,1068.2 L490.7,1069.3 L491.2,1070.4 L491.8,1071.8 L492.3,1073.4 L492.8,1075.0 L493.3,1076.9 L493.8,1078.9 L494.3,1080.7 L494.8,1081.7 L495.3,1083.3 L495.8,1085.5 L496.3,1087.1 L496.8,1088.2 L497.3,1089.4 L497.8,1091.5 L498.4,1093.5 L498.9,1095.0 L499.4,1096.1 L500.0,1097.1 L500.6,1099.0 L501.3,1101.2 L501.9,1102.5 L502.5,1103.7 L503.2,1105.1 L503.8,1106.5 L504.5,1108.0 L505.1,1109.7 L505.8,1111.6 L506.5,1113.6 L507.2,1114.7 L507.9,1115.8 L508.6,1116.9 L509.3,1118.6 L510.0,1120.2 L510.9,1122.1 L511.7,1123.2 L512.6,1124.2 L513.5,1125.8 L514.4,1127.6 L515.3,1129.4 L516.2,1130.6 L517.1,1131.8 L518.1,1132.7 L519.0,1133.5 L520.0,1134.6 L521.2,1136.0 L522.3,1137.5 L523.5,1139.3 L524.7,1140.9 L525.9,1142.0 L527.2,1142.7 L528.6,1143.7 L530.0,1145.2 L531.3,1146.4 L532.7,1146.8 L534.2,1147.2 L535.6,1148.2 L537.1,1149.3 L538.7,1150.2 L540.3,1150.6 L541.8,1150.9 L543.4,1151.8 L545.0,1152.9 L546.5,1153.8 L548.1,1154.0 L549.6,1154.2 L551.2,1154.8 L552.8,1155.7 L554.4,1156.6 L556.0,1157.0 L557.6,1157.2 L559.2,1157.4 L560.9,1158.3 L562.5,1159.4 L564.1,1159.5 L565.8,1159.4 L567.4,1160.0 L569.1,1160.9 L570.8,1161.7 L572.5,1161.6 L574.2,1161.5 L575.9,1162.4 L577.6,1163.2 L579.3,1163.1 L580.9,1162.9 L582.5,1162.6 L584.2,1162.6 L585.9,1162.5 L587.6,1162.4 L589.3,1162.1 L590.9,1161.8 L592.6,1162.2 L594.2,1162.3 L595.8,1161.4 L597.3,1160.5 L598.7,1159.9 L600.0,1159.7 L601.5,1159.0 L602.9,1157.6 L604.2,1156.2 L605.5,1155.3 L606.6,1154.7 L607.8,1153.3 L608.9,1151.3 L610.0,1149.9 L611.0,1149.1 L611.9,1148.0 L612.7,1146.2 L613.6,1144.4 L614.4,1143.0 L615.3,1142.0 L616.1,1141.0 L616.9,1139.1 L617.7,1137.0 L618.5,1135.7 L619.3,1134.5 L620.1,1133.0 L620.8,1131.1 L621.5,1129.2 L622.2,1128.2 L622.9,1127.3 L623.6,1125.5 L624.3,1123.5 L625.0,1122.3 L625.6,1121.2 L626.3,1119.8 L627.0,1117.9 L627.6,1116.0 L628.2,1114.4 L628.9,1113.5 L629.5,1111.8 L630.1,1109.7 L630.6,1108.0 L631.1,1106.5 L631.6,1105.0 L632.1,1103.4 L632.6,1101.9 L633.1,1100.9 L633.6,1099.8 L634.0,1097.9 L634.5,1095.9 L634.9,1094.0 L635.3,1092.8 L635.8,1091.7 L636.2,1090.5 L636.7,1088.2 L637.1,1086.2 L637.6,1085.4 L638.0,1083.9 L638.5,1082.0 L638.9,1080.0 L639.4,1078.6 L639.8,1077.4 L640.2,1075.9 L640.7,1073.8 L641.1,1071.9 L641.6,1070.9 L642.0,1069.6 L642.5,1067.5 L642.9,1065.5 L643.3,1063.8 L643.8,1062.5 L644.2,1061.2 L644.6,1059.4 L645.1,1057.4 L645.5,1055.6 L645.9,1054.2 L646.3,1053.0 L646.7,1051.8 L647.1,1049.9 L647.5,1047.8 L647.9,1046.6 L648.2,1045.5 L648.6,1043.5 L649.0,1041.4 L649.4,1040.2 L649.8,1039.0 L650.2,1037.4 L650.6,1035.5 L651.0,1033.5 L651.4,1032.0 L651.8,1030.9 L652.2,1029.8 L652.6,1027.7 L653.0,1025.6 L653.4,1023.8 L653.8,1022.2 L654.2,1020.6 L654.6,1019.5 L655.0,1018.4 L655.4,1016.7 L655.8,1014.6 L656.2,1012.8 L656.6,1011.1 L657.0,1009.5 L657.4,1008.3 L657.8,1007.2 L658.2,1005.7 L658.6,1003.7 L658.9,1001.7 L659.3,1000.7 L659.7,999.7 L660.1,997.9 L660.5,995.9 L660.8,993.9 L661.2,992.8 L661.5,991.8 L661.9,990.1 L662.2,988.2 L662.5,986.2 L662.9,985.2 L663.2,984.2 L663.5,982.5 L663.9,980.6 L664.2,978.6 L664.6,977.2 L665.0,975.9 L665.4,974.2 L665.9,971.9 L666.3,969.5 L666.6,968.6 L666.9,967.7 L667.2,966.8 L667.5,965.5 L667.9,964.1 L668.2,962.7 L668.5,961.0 L668.9,959.2 L669.3,957.4 L669.6,955.8 L670.0,954.3 L670.4,952.7 L670.8,951.4 L671.2,950.2 L671.6,949.0 L672.0,946.8 L672.4,944.7 L672.8,943.4 L673.3,942.3 L673.7,940.0 L674.1,937.6 L674.6,936.3 L675.0,935.1 L675.4,933.6 L675.8,931.3 L676.3,929.1 L676.7,927.7 L677.1,926.4 L677.6,924.9 L678.0,922.7 L678.4,920.6 L678.8,919.2 L679.3,918.0 L679.7,916.1 L680.1,913.8 L680.5,912.1 L680.9,911.1 L681.3,909.3 L681.7,907.2 L682.0,905.7 L682.4,904.4 L682.8,903.2 L683.1,901.4 L683.5,899.4 L683.8,898.1 L684.1,897.1 L684.5,896.0 L684.8,894.5 L685.1,892.7 L685.5,890.5 L685.8,889.2 L686.2,887.9 L686.6,886.2 L686.9,884.0 L687.2,882.3 L687.6,881.2 L687.9,879.8 L688.2,877.8 L688.5,875.9 L688.8,874.3 L689.1,873.2 L689.4,872.0 L689.6,870.6 L689.9,869.1 L690.2,867.6 L690.5,865.8 L690.8,863.9 L691.1,862.3 L691.3,861.3 L691.6,860.1 L691.9,858.3 L692.2,856.5 L692.6,854.7 L692.9,853.6 L693.2,852.4 L693.6,850.4 L693.9,848.3 L694.2,846.6 L694.6,844.9 L694.9,843.3 L695.3,842.2 L695.6,841.0 L696.0,839.4 L696.3,837.4 L696.6,835.8 L697.0,834.7 L697.3,832.9 L697.7,830.8 L698.0,829.4 L698.4,828.5 L698.7,826.7 L699.0,824.7 L699.4,823.0 L699.7,821.8 L700.1,820.6 L700.4,819.3 L700.7,817.1 L701.1,814.9 L701.4,813.0 L701.8,812.3 L702.1,811.0 L702.4,808.6 L702.8,806.9 L703.1,805.7 L703.5,804.5 L703.8,802.8 L704.1,800.8 L704.5,798.8 L704.8,797.6 L705.2,796.7 L705.5,794.8 L705.8,792.5 L706.2,791.1 L706.5,789.9 L706.9,788.8 L707.2,786.9 L707.6,784.8 L707.9,782.8 L708.3,781.7 L708.7,780.5 L709.0,778.9 L709.4,776.8 L709.8,774.8 L710.2,773.5 L710.5,772.6 L710.9,771.1 L711.3,769.5 L711.7,768.0 L712.0,765.8 L712.4,763.5 L712.8,761.5 L713.2,760.5 L713.5,759.5 L713.9,757.7 L714.3,755.2 L714.7,753.9 L715.1,752.9 L715.5,751.8 L715.8,749.3 L716.2,747.0 L716.6,745.9 L717.0,744.9 L717.4,743.2 L717.8,740.7 L718.2,739.5 L718.6,738.8 L719.0,736.9 L719.4,734.7 L719.7,733.2 L720.1,732.3 L720.5,730.8 L720.9,728.6 L721.3,726.4 L721.8,725.2 L722.2,724.3 L722.6,723.1 L723.0,720.9 L723.5,718.8 L723.9,717.8 L724.4,716.8 L724.9,715.0 L725.3,712.9 L725.8,710.7 L726.3,709.5 L726.8,708.5 L727.2,707.4 L727.7,705.5 L728.2,703.7 L728.7,701.8 L729.1,700.6 L729.6,699.5 L730.1,698.2 L730.5,696.2 L731.0,694.2 L731.5,692.3 L731.9,690.7 L732.4,689.2 L732.8,687.9 L733.3,686.7 L733.7,685.5 L734.2,683.5 L734.6,681.4 L735.1,679.6 L735.6,678.7 L736.1,677.7 L736.6,675.9 L737.1,673.7 L737.6,672.4 L738.1,671.5 L738.7,669.7 L739.2,667.5 L739.8,665.9 L740.4,665.1 L741.0,663.8 L741.5,661.5 L742.1,659.6 L742.7,658.6 L743.3,657.6 L743.9,656.4 L744.5,654.3 L745.1,652.5 L745.7,651.5 L746.3,650.6 L747.0,648.8 L747.6,646.7 L748.3,644.9 L748.9,644.0 L749.6,642.6 L750.3,640.4 L750.9,638.7 L751.6,637.8 L752.3,636.5 L753.0,634.5 L753.6,632.5 L754.4,631.5 L755.1,630.6 L755.9,629.3 L756.7,627.6 L757.5,626.0 L758.3,624.1 L759.1,622.1 L760.0,620.3 L760.8,619.4 L761.7,618.5 L762.5,616.4 L763.4,614.2 L764.2,613.2 L765.1,612.2 L765.9,611.1 L766.7,609.2 L767.5,607.4 L768.3,605.8 L769.1,604.8 L770.0,603.9 L770.8,602.4 L771.6,600.5 L772.5,598.6 L773.3,597.0 L774.2,595.6 L775.1,594.4 L776.0,593.6 L776.9,592.8 L777.8,591.0 L778.8,589.1 L779.7,588.3 L780.7,587.5 L781.7,585.8 L782.7,583.8 L783.6,582.6 L784.6,581.8 L785.6,580.9 L786.6,579.6 L787.6,578.3 L788.6,576.4 L789.6,574.5 L790.6,572.9 L791.6,572.2 L792.7,571.6 L793.7,570.2 L794.7,568.3 L795.8,567.1 L796.8,566.6 L797.9,565.2 L799.0,563.6 L800.1,561.9 L801.3,561.0 L802.5,560.5 L803.7,559.1 L804.9,557.5 L806.2,555.8 L807.4,555.2 L808.7,554.7 L810.0,553.1 L811.2,551.5 L812.5,549.9 L813.8,549.3 L815.1,548.7 L816.4,548.1 L817.8,546.5 L819.1,545.0 L820.4,544.3 L821.8,543.9 L823.1,543.4 L824.5,541.9 L825.9,540.4 L827.3,539.9 L828.7,539.5 L830.1,539.1 L831.5,537.8 L832.9,536.6 L834.4,535.4 L835.8,534.5 L837.3,533.6 L838.7,533.2 L840.2,533.0 L841.7,532.9 L843.2,531.7 L844.7,530.5 L846.1,529.3 L847.6,529.1 L849.2,529.1 L850.8,528.0 L852.3,526.8 L853.9,526.1 L855.5,526.0 L857.1,525.8 L858.7,525.3 L860.3,524.1 L861.9,523.4 L863.5,523.2 L865.1,523.1 L866.6,522.6 L868.1,521.6 L869.6,520.6 L871.1,520.4 L872.6,520.5 L874.1,520.3 L875.6,519.2 L877.2,518.2 L878.7,517.5 L880.3,517.8 L881.9,517.4 L883.5,516.3 L885.1,515.8 L886.7,516.0 L888.3,516.3 L889.9,516.0 L891.6,515.6 L893.2,514.8 L894.9,513.9 L896.6,513.6 L898.3,513.8 L900.0,514.0 L901.7,513.7 L903.4,513.1 L905.1,512.5 L906.8,512.6 L908.5,512.9 L910.2,512.5 L911.8,511.5 L913.5,511.3 L915.2,511.6 L916.8,511.9 L918.5,511.8 L920.2,511.7 L921.8,511.3 L923.5,510.3 L925.2,510.0 L926.8,510.3 L928.5,510.5 L930.2,510.3 L931.8,510.1 L933.5,509.4 L935.2,508.8 L936.8,508.1 L938.5,508.7 L940.2,509.2 L941.8,508.4 L943.5,507.8 L945.2,508.2 L946.8,508.6 L948.5,508.0 L950.2,507.2 L951.8,507.4 L953.5,507.8 L955.2,507.9 L956.8,507.2 L958.5,506.7 L960.2,507.0 L961.8,507.3 L963.5,507.3 L965.2,507.0 L966.8,506.2 L968.5,505.4 L970.2,505.7 L971.9,506.0 L973.5,506.2 L975.2,505.6 L976.9,505.1 L978.5,504.7 L980.2,505.3 L981.9,505.5 L983.5,505.4 L985.2,505.3 L986.9,504.7 L988.5,504.0 L990.1,503.3 L991.8,503.6 L993.4,503.9 L995.1,504.3 L996.7,503.7 L998.3,503.1 L1000.0,502.9 L1001.6,503.5 L1003.3,503.9 L1005.0,503.3 L1006.7,502.6 L1008.5,502.6 L1010.2,503.3 L1011.8,503.0 L1013.4,502.3 L1015.0,502.7 L1016.7,503.2 L1018.3,503.7 L1020.0,503.3 L1021.7,502.7 L1023.4,502.4 L1025.1,503.0 L1026.8,503.5 L1028.5,503.6 L1030.2,503.2 L1031.9,502.8 L1033.6,503.0 L1035.2,503.5 L1036.9,504.1 L1038.5,503.9 L1040.1,503.4 L1041.7,503.2 L1043.4,503.8 L1045.1,504.4 L1046.9,504.8 L1048.5,504.3 L1050.2,503.9 L1051.9,503.9 L1053.5,504.7 L1055.2,505.1 L1056.8,504.7 L1058.5,504.3 L1060.1,504.8 L1061.7,505.4 L1063.4,505.9 L1065.0,505.6 L1066.7,505.2 L1068.3,505.2 L1070.0,506.0 L1071.7,506.7 L1073.4,507.1 L1075.0,507.0 L1076.7,506.8 L1078.4,507.4 L1080.0,508.2 L1081.7,508.6 L1083.4,508.2 L1085.0,508.1 L1086.7,508.4 L1088.4,508.7 L1090.0,509.3 L1091.7,510.1 L1093.4,510.9 L1095.0,511.0 L1096.7,510.9 L1098.4,510.8 L1100.1,511.9 L1101.8,512.9 L1103.5,512.6 L1105.2,512.4 L1106.9,513.3 L1108.6,514.3 L1110.2,513.9 L1111.9,513.6 L1113.5,514.6 L1115.1,515.5 L1116.7,515.3 L1118.4,515.0 L1120.2,515.4 L1121.9,516.0 L1123.6,516.1 L1125.3,515.4 L1126.9,515.6 L1128.6,516.2 L1130.2,516.2 L1131.9,515.8 L1133.5,515.5 L1135.1,515.8 L1136.7,516.7 L1138.4,517.7 L1140.0,517.6 L1141.6,517.7 L1143.1,517.8 L1144.7,519.1 L1146.2,520.3 L1147.8,520.9 L1149.4,521.0 L1151.0,521.1 L1152.6,521.9 L1154.2,522.8 L1155.8,523.6 L1157.5,523.4 L1159.1,523.2 L1160.8,522.6 L1162.5,525.3 L1164.2,525.4 L1165.9,524.0 L1167.6,522.4 L1169.3,524.3 L1170.9,526.5 L1172.6,527.5 L1174.2,525.7 L1176.0,523.8 L1177.8,525.5 L1179.5,527.9 L1181.2,526.2 L1183.0,523.9 L1184.7,523.0 L1186.4,525.3 L1188.2,525.8 L1189.9,523.1 L1191.7,523.8 L1193.4,525.6 L1195.0,526.6 L1196.7,524.5 L1198.4,522.3 L1200.0,524.5 L1201.7,527.0 L1203.4,524.8 L1205.1,522.3 L1206.8,523.2 L1208.5,525.1 L1210.1,524.9 L1211.7,522.0 L1213.4,521.2 L1215.1,521.1 L1216.8,521.0 L1218.5,522.9 L1220.1,524.8 L1221.8,522.6 L1223.4,519.6 L1225.0,520.1 L1226.5,522.1 L1227.9,522.5 L1229.2,521.1 L1231.2,519.4 L1233.0,523.2 L1234.7,525.7 L1236.3,525.1 L1238.0,523.9 L1239.1,523.5 L1240.3,524.1 L1241.3,524.6 L1242.4,522.7 L1243.5,519.0 L1244.6,515.6 L1245.7,516.1 L1246.8,516.6 L1248.0,514.6 L1249.6,511.5 L1251.3,509.8 L1253.0,512.1 L1254.7,513.8 L1256.4,513.6 L1258.0,513.4 L1259.5,509.9 L1261.1,507.8 L1262.6,511.8 L1264.1,516.2 L1265.6,515.5 L1266.9,513.8 L1268.0,516.3 L1268.8,519.5 L1269.4,522.9 L1269.9,522.4 L1270.3,521.3 L1270.6,524.3 L1271.0,529.1 L1271.5,533.6 L1272.2,530.8 L1273.0,531.5 L1274.0,536.9 L1275.0,537.8 L1276.2,536.0 L1277.4,534.9 L1278.7,539.8 L1280.1,543.6 L1281.4,541.1 L1282.8,538.8 L1284.2,541.8 L1285.5,544.4 L1287.0,542.9 L1288.6,539.2 L1290.1,540.6 L1291.7,543.2 L1293.3,543.9 L1294.9,540.9 L1296.4,538.0 L1298.0,537.7 L1299.8,540.5 L1301.6,538.2 L1303.4,534.3 L1305.2,535.6 L1307.0,538.0 L1308.8,540.4 L1310.5,536.5 L1312.0,533.0 L1313.5,534.8 L1314.9,537.9 L1316.4,534.0 L1317.8,529.3 L1319.2,528.9 L1320.5,530.3 L1321.8,531.6 L1323.0,528.8 L1324.0,525.7 L1325.0,522.4 L1325.9,523.2 L1326.8,524.6 L1327.6,524.4 L1328.4,519.3 L1329.2,515.2 L1330.0,517.3 L1330.7,518.5 L1331.5,514.2 L1332.3,510.1 L1333.0,507.4 L1333.9,505.6 L1334.7,505.3 L1335.5,506.0 L1336.3,506.6 L1337.1,504.1 L1337.9,500.7 L1338.7,497.4 L1339.6,497.0 L1340.5,498.6 L1341.7,500.0 L1343.1,495.5 L1344.4,490.9 L1345.8,491.0 L1347.1,492.9 L1348.3,493.2 L1349.3,491.5 L1349.9,490.7 L1350.3,489.7 L1350.7,489.0 L1351.0,494.5 L1351.2,500.1 L1351.4,498.1 L1351.5,498.9 L1351.6,505.5 L1351.8,506.6 L1351.9,505.7 L1352.0,510.6 L1352.2,514.8 L1352.4,514.8 L1352.7,514.4 L1353.1,514.1 L1353.7,512.4 L1354.4,510.2 L1355.1,512.7 L1355.9,511.1 L1356.9,504.6 L1358.1,503.3 L1359.5,505.1 L1361.1,507.5 L1362.9,505.0 L1364.8,501.2 L1366.5,502.8 L1368.1,504.7 L1369.3,505.0 L1370.5,503.3 L1371.5,500.9 L1372.5,496.4 L1373.5,492.4 L1374.5,492.3 L1375.6,493.4 L1376.7,495.5 L1377.9,495.5 L1379.1,493.7 L1380.3,494.2 L1381.6,500.6 L1383.1,501.9 L1384.2,500.5 L1385.4,498.9 L1386.7,501.6 L1388.1,505.1 L1389.5,508.7 L1390.9,505.7 L1392.4,503.0 L1393.8,506.8 L1395.3,510.5 L1396.7,509.5 L1398.1,507.6 L1399.5,510.8 L1400.9,514.0 L1402.3,514.9 L1403.7,512.5 L1405.1,511.3 L1406.5,514.8 L1408.0,518.4 L1409.5,518.6 L1411.0,516.6 L1412.5,515.2 L1414.0,519.0 L1415.5,522.8 L1417.1,519.9 L1418.6,516.8 L1420.2,520.0 L1421.8,520.8 L1423.5,521.2 L1425.1,520.4 L1426.7,520.5 L1428.4,521.4 L1430.0,521.6 L1431.6,521.4 L1433.3,521.4 L1434.9,522.3 L1436.6,523.2 L1438.3,523.6 L1439.9,523.9 L1441.6,524.2 L1443.3,524.3 L1445.0,524.2 L1446.7,523.7 L1448.4,524.2 L1450.0,525.2 L1451.7,526.0 L1453.4,525.6 L1455.1,525.3 L1456.8,526.1 L1458.5,527.2 L1460.1,527.9 L1461.8,527.7 L1463.5,527.5 L1465.2,528.0 L1466.8,529.0 L1468.4,530.0 L1470.0,530.4 L1471.7,530.4 L1473.4,530.5 L1475.0,531.7 L1476.7,533.0 L1478.3,533.7 L1479.9,533.7 L1481.5,533.9 L1483.1,534.6 L1484.6,535.3 L1486.1,536.0 L1487.5,536.9 L1489.1,538.1 L1490.5,539.6 L1492.0,540.2 L1493.4,540.4 L1494.8,541.0 L1496.1,542.4 L1497.5,543.7 L1498.8,544.0 L1500.0,544.3 L1501.4,545.8 L1502.7,547.6 L1504.0,548.6 L1505.3,549.1 L1506.5,550.8 L1507.7,552.7 L1508.9,553.5 L1510.0,554.4 L1511.0,555.9 L1511.9,558.0 L1512.8,559.5 L1513.6,560.0 L1514.5,561.2 L1515.3,563.6 L1516.2,565.4 L1517.0,566.2 L1517.8,567.2 L1518.5,569.4 L1519.3,571.7 L1520.1,572.9 L1520.8,573.6 L1521.6,575.3 L1522.3,577.4 L1523.0,579.2 L1523.7,580.1 L1524.4,581.2 L1525.1,583.6 L1525.7,586.0 L1526.3,587.0 L1526.9,588.0 L1527.6,589.8 L1528.1,591.8 L1528.6,593.7 L1529.1,594.6 L1529.5,595.6 L1530.0,597.8 L1530.4,600.1 L1530.9,601.9 L1531.3,603.0 L1531.7,604.1 L1532.2,606.0 L1532.6,608.4 L1533.0,609.3 L1533.4,610.1 L1533.8,611.8 L1534.3,613.6 L1534.7,615.9 L1535.1,618.1 L1535.6,619.6 L1536.0,620.5 L1536.4,622.4 L1536.8,625.0 L1537.2,625.8 L1537.6,626.9 L1538.0,629.3 L1538.4,631.1 L1538.8,632.0 L1539.1,633.9 L1539.4,636.1 L1539.8,637.6 L1540.1,638.5 L1540.4,639.5 L1540.7,641.5 L1540.9,643.6 L1541.2,645.8 L1541.5,647.0 L1541.8,648.2 L1542.1,649.5 L1542.4,651.7 L1542.7,653.9 L1543.0,656.0 L1543.2,656.8 L1543.5,657.7 L1543.8,660.0 L1544.1,662.2 L1544.4,663.6 L1544.6,664.5 L1544.9,665.7 L1545.2,668.0 L1545.4,670.0 L1545.7,671.0 L1545.9,672.1 L1546.2,673.9 L1546.5,676.0 L1546.7,677.5 L1547.0,678.5 L1547.3,679.7 L1547.5,682.3 L1547.8,684.6 L1548.0,686.1 L1548.3,687.5 L1548.6,688.6 L1548.8,689.7 L1549.1,691.4 L1549.3,693.8 L1549.6,695.4 L1549.8,696.5 L1550.1,697.6 L1550.3,699.1 L1550.6,700.6 L1550.8,702.2 L1551.1,704.7 L1551.3,707.2 L1551.6,708.2 L1551.8,709.2 L1552.1,710.4 L1552.3,712.8 L1552.6,714.8 L1552.8,716.0 L1553.1,717.2 L1553.3,719.3 L1553.6,721.4 L1553.8,723.4 L1554.1,724.5 L1554.3,725.5 L1554.6,726.6 L1554.8,728.9 L1555.1,731.2 L1555.3,733.0 L1555.6,734.0 L1555.8,735.0 L1556.1,736.8 L1556.3,739.4 L1556.6,740.9 L1556.8,741.7 L1557.1,743.3 L1557.3,745.4 L1557.6,747.5 L1557.8,748.6 L1558.1,749.5 L1558.3,751.4 L1558.6,753.7 L1558.8,755.7 L1559.1,756.6 L1559.3,757.6 L1559.6,759.7 L1559.8,762.0 L1560.1,763.5 L1560.3,764.6 L1560.6,766.2 L1560.8,768.3 L1561.1,770.5 L1561.3,771.6 L1561.6,772.8 L1561.8,774.0 L1562.1,775.6 L1562.3,777.3 L1562.6,779.3 L1562.8,781.5 L1563.1,783.3 L1563.3,784.5 L1563.6,785.7 L1563.8,787.3 L1564.1,789.3 L1564.3,791.4 L1564.6,793.1 L1564.9,794.7 L1565.1,796.0 L1565.4,797.0 L1565.7,798.1 L1565.9,800.3 L1566.2,802.6 L1566.4,804.0 L1566.7,805.0 L1567.0,806.0 L1567.2,808.1 L1567.5,810.2 L1567.8,812.0 L1568.0,813.1 L1568.3,814.2 L1568.6,815.4 L1568.8,817.7 L1569.1,819.9 L1569.4,821.0 L1569.6,822.1 L1569.9,823.4 L1570.2,825.0 L1570.4,826.8 L1570.7,829.0 L1571.0,831.1 L1571.2,832.7 L1571.5,833.7 L1571.8,834.6 L1572.0,836.6 L1572.3,838.7 L1572.6,840.8 L1572.8,842.1 L1573.1,843.0 L1573.3,844.3 L1573.6,846.3 L1573.8,848.3 L1574.1,850.1 L1574.4,851.8 L1574.7,853.0 L1574.9,853.8 L1575.2,855.9 L1575.4,858.2 L1575.7,859.6 L1575.9,860.7 L1576.2,861.8 L1576.5,863.7 L1576.7,865.8 L1577.0,867.8 L1577.3,869.3 L1577.6,870.7 L1578.0,872.5 L1578.4,873.7 L1578.8,874.8 L1579.2,876.3 L1579.6,877.9 L1580.0,879.5 L1580.5,881.6 L1580.9,883.8 L1581.3,885.4 L1581.8,886.4 L1582.3,889.2 L1582.7,891.8 L1583.2,893.2 L1583.7,895.5 L1584.1,897.8 L1584.6,899.3 L1585.1,899.6 L1585.5,899.0 L1586.0,897.6 L1586.5,895.5 L1586.9,893.8 L1587.4,892.3 L1587.9,889.6 L1588.3,886.5 L1588.8,885.0 L1589.2,884.1 L1589.7,882.8 L1590.1,880.6 L1590.5,878.3 L1591.0,876.9 L1591.4,875.7 L1591.8,874.6 L1592.3,872.4 L1592.7,869.9 L1593.1,868.7 L1593.5,867.6 L1593.8,865.3 L1594.1,863.1 L1594.4,861.9 L1594.6,861.0 L1594.8,859.4 L1595.1,857.2 L1595.3,854.9 L1595.5,853.7 L1595.7,852.8 L1595.9,850.8 L1596.1,848.4 L1596.2,846.6 L1596.4,845.5 L1596.6,844.3 L1596.8,842.2 L1597.0,839.6 L1597.2,838.4 L1597.4,837.3 L1597.6,835.6 L1597.8,833.2 L1598.0,831.5 L1598.2,830.5 L1598.4,829.2 L1598.6,826.9 L1598.8,824.6 L1599.0,823.3 L1599.2,822.1 L1599.4,820.5 L1599.6,818.4 L1599.9,816.2 L1600.1,814.3 L1600.3,812.5 L1600.5,810.8 L1600.7,809.5 L1600.9,808.6 L1601.1,806.9 L1601.3,804.6 L1601.6,802.9 L1601.8,801.8 L1602.1,800.7 L1602.3,798.4 L1602.5,796.1 L1602.8,794.5 L1603.0,792.9 L1603.3,791.2 L1603.5,790.0 L1603.8,788.9 L1604.0,787.7 L1604.3,785.2 L1604.6,782.8 L1604.8,781.2 L1605.1,779.5 L1605.3,778.3 L1605.6,777.2 L1605.8,776.2 L1606.1,774.7 L1606.3,773.2 L1606.6,771.6 L1606.9,769.6 L1607.1,767.4 L1607.4,765.2 L1607.7,764.5 L1607.9,763.7 L1608.2,761.3 L1608.5,759.0 L1608.7,757.8 L1609.0,756.6 L1609.3,755.3 L1609.6,753.2 L1609.8,751.1 L1610.1,750.0 L1610.4,749.1 L1610.7,746.6 L1610.9,744.5 L1611.2,743.3 L1611.5,742.1 L1611.8,740.3 L1612.1,738.2 L1612.4,736.3 L1612.6,735.1 L1612.9,733.9 L1613.2,732.2 L1613.5,730.1 L1613.8,728.0 L1614.1,726.8 L1614.4,725.8 L1614.8,724.8 L1615.1,722.7 L1615.5,720.2 L1616.0,718.4 L1616.4,716.6 L1616.9,715.8 L1617.3,714.8 L1617.8,712.7 L1618.3,710.7 L1618.8,709.2 L1619.2,708.0 L1619.7,706.9 L1620.1,705.6 L1620.6,703.4 L1621.0,701.4 L1621.5,700.0 L1621.9,699.3 L1622.4,697.7 L1622.8,695.6 L1623.3,693.6 L1623.9,692.7 L1624.4,691.8 L1625.0,690.3 L1625.7,688.7 L1626.4,686.3 L1627.0,684.4 L1627.7,683.6 L1628.3,682.1 L1628.9,680.1 L1629.3,678.1 L1629.8,676.6 L1630.2,675.5 L1630.6,674.1 L1631.0,672.0 L1631.4,670.0 L1632.0,669.0 L1632.6,667.9 L1633.5,666.9 L1634.5,664.8 L1635.6,662.7 L1636.8,661.5 L1637.9,661.0 L1639.1,659.3 L1640.1,657.3 L1641.0,655.8 L1641.9,654.7 L1642.7,653.7 L1643.6,652.3 L1644.4,650.8 L1645.3,649.4 L1646.4,647.5 L1647.5,645.8 L1648.6,645.2 L1649.8,644.7 L1651.1,643.3 L1652.4,641.6 L1653.8,640.1 L1655.1,639.6 L1656.7,639.3 L1658.4,639.1 L1660.0,638.2 L1661.8,637.2 L1663.5,636.9 L1665.1,637.2 L1666.6,635.8 L1668.0,634.3 L1669.3,633.1 L1670.7,632.8 L1672.1,632.3 L1673.6,630.9 L1675.1,629.6 L1676.6,628.7 L1678.1,628.1 L1679.7,627.6 L1681.2,627.3 L1682.8,627.3 L1684.4,627.4 L1686.0,627.2 L1687.6,626.1 L1689.4,625.2 L1691.1,625.4 L1692.7,625.7 L1694.5,625.4 L1696.2,625.1 L1698.1,624.3 L1700.1,623.4 L1701.5,623.5 L1703.0,623.6 L1704.6,623.4 L1706.2,622.9 L1707.8,622.4 L1709.5,622.3 L1711.2,622.2 L1713.0,622.3 L1714.7,622.5 L1716.5,622.5 L1718.2,622.4 L1720.0,622.2 L1721.7,621.7 L1723.5,621.2 L1725.1,621.1 L1726.8,621.2 L1728.5,621.4 L1730.1,621.1 L1731.8,620.6 L1733.5,620.1 L1735.1,620.1 L1736.8,620.1 L1738.5,620.2 L1740.1,619.8 L1741.8,619.4 L1743.5,619.0 L1745.2,619.1 L1746.8,619.3 L1748.5,618.9 L1750.2,618.5 L1751.8,618.5 L1753.5,618.6 L1755.2,618.7 L1756.9,618.6 L1758.6,618.5 L1760.3,618.3 L1762.0,617.9 L1763.7,617.6 L1765.4,617.7 L1767.1,618.0 L1768.7,617.9 L1770.4,617.5 L1772.0,617.4 L1773.6,617.6 L1775.2,617.8 L1776.8,617.8 L1778.5,617.5 L1780.0,617.4 L1781.6,617.8 L1783.1,618.1 L1784.6,618.4 L1786.1,618.4 L1787.7,618.3 L1789.3,618.3 L1791.0,618.6 L1792.7,619.0 L1794.5,619.2 L1795.9,618.8 L1797.3,618.4 L1798.8,618.5 L1800.3,618.8 L1801.9,619.1 L1803.4,618.7 L1805.0,618.3 L1806.7,618.1 L1808.3,618.3 L1810.0,618.5 L1811.7,618.5 L1813.4,617.9 L1815.1,617.6 L1816.8,617.9 L1818.5,618.1 L1820.2,617.5 L1821.9,617.1 L1823.6,617.4 L1825.4,617.7 L1827.0,617.3 L1828.7,616.7 L1830.4,616.9 L1832.0,617.1 L1833.7,617.2 L1835.3,616.8 L1837.0,616.4 L1838.7,616.8 L1840.3,617.2 L1842.0,616.8 L1843.7,616.5 L1845.4,616.3 L1847.1,616.5 L1848.7,616.7 L1850.4,616.7 L1852.1,616.4 L1853.8,616.1 L1855.4,616.1 L1857.1,616.4 L1858.7,616.7 L1860.3,616.4 L1861.9,616.2 L1863.5,615.9 L1865.0,616.3 L1866.6,616.7 L1868.1,616.4 L1869.6,616.1 L1871.4,616.0 L1873.1,616.3 L1874.9,616.6 L1876.6,616.4 L1878.3,616.0 L1879.9,616.2 L1881.6,616.5 L1883.2,616.9 L1884.8,616.8 L1886.4,616.5 L1888.0,616.3 L1889.6,616.6 L1891.3,617.0 L1892.9,617.3 L1894.6,617.1 L1896.2,616.9 L1897.9,616.8 L1899.6,616.8 L1901.2,617.2 L1902.9,617.6 L1904.6,617.6 L1906.2,617.4 L1907.9,617.6 L1909.6,618.0 L1911.3,618.3 L1912.9,618.1 L1914.6,617.8 L1916.2,618.2 L1917.9,618.8 L1919.6,619.2 L1921.3,619.4 L1923.0,619.5 L1924.7,619.5 L1926.4,619.5 L1928.1,620.1 L1929.8,620.7 L1931.5,621.3 L1933.2,621.6 L1934.9,621.9 L1936.6,622.1 L1938.3,622.1 L1939.9,622.3 L1941.5,623.1 L1943.1,623.6 L1944.6,623.6 L1946.3,623.9 L1948.0,624.7 L1949.7,625.3 L1951.3,625.3 L1952.9,625.5 L1954.5,626.1 L1956.0,626.8 L1957.6,627.3 L1959.1,627.4 L1960.6,628.1 L1962.1,629.1 L1963.7,629.8 L1965.2,630.1 L1966.8,630.7 L1968.3,631.5 L1969.8,632.4 L1971.3,633.6 L1972.7,634.8 L1974.2,635.6 L1975.6,636.2 L1977.1,637.3 L1978.4,638.5 L1979.7,639.7 L1980.9,640.6 L1982.2,641.2 L1983.5,642.1 L1984.7,643.6 L1986.0,644.9 L1987.2,645.9 L1988.5,646.7 L1989.7,647.5 L1990.9,648.8 L1992.1,650.2 L1993.2,651.4 L1994.4,652.3 L1995.5,653.2 L1996.6,654.5 L1997.7,656.0 L1998.9,657.5 L2000.0,658.5 L2001.1,659.4 L2002.1,660.9 L2003.2,662.6 L2004.2,663.6 L2005.2,664.6 L2006.2,666.1 L2007.1,667.7 L2008.1,669.2 L2009.0,670.3 L2009.9,671.6 L2010.8,673.3 L2011.6,675.0 L2012.4,676.3 L2013.2,677.4 L2014.0,678.7 L2014.8,680.6 L2015.5,682.3 L2016.3,683.5 L2017.1,684.8 L2017.8,686.4 L2018.5,688.2 L2019.2,689.5 L2019.9,690.7 L2020.6,691.9 L2021.2,693.5 L2021.9,695.3 L2022.6,696.9 L2023.2,698.2 L2023.9,699.5 L2024.5,701.2 L2025.2,703.0 L2025.8,704.9 L2026.5,706.1 L2027.1,707.3 L2027.7,708.8 L2028.3,710.6 L2028.8,712.1 L2029.4,713.3 L2030.0,714.5 L2030.5,716.3 L2031.1,718.1 L2031.7,719.9 L2032.2,721.1 L2032.8,722.3 L2033.3,723.7 L2033.9,725.6 L2034.4,727.5 L2034.9,729.3 L2035.5,730.8 L2036.0,732.2 L2036.6,733.3 L2037.1,734.9 L2037.7,736.7 L2038.2,738.5 L2038.7,739.9 L2039.3,741.2 L2039.8,742.5 L2040.3,744.2 L2040.9,746.1 L2041.4,747.8 L2041.9,749.1 L2042.4,750.3 L2043.0,752.2 L2043.5,754.1 L2044.0,755.7 L2044.5,757.0 L2045.1,758.3 L2045.6,760.1 L2046.1,762.1 L2046.6,763.4 L2047.1,764.6 L2047.6,766.4 L2048.1,768.3 L2048.6,769.8 L2049.1,771.0 L2049.6,772.4 L2050.0,774.2 L2050.5,776.0 L2051.0,777.2 L2051.5,778.3 L2052.0,780.2 L2052.4,782.1 L2052.9,783.6 L2053.4,784.9 L2053.9,786.2 L2054.3,788.0 L2054.8,789.9 L2055.3,791.7 L2055.7,792.9 L2056.2,794.1 L2056.7,795.8 L2057.1,797.7 L2057.6,799.4 L2058.0,800.8 L2058.4,802.1 L2058.8,803.4 L2059.3,805.2 L2059.7,807.0 L2060.1,808.7 L2060.5,810.1 L2060.9,811.4 L2061.4,812.8 L2061.8,814.7 L2062.2,816.7 L2062.6,817.9 L2063.0,819.0 L2063.4,820.5 L2063.8,822.1 L2064.2,823.7 L2064.7,825.5 L2065.1,827.3 L2065.5,829.2 L2065.9,830.3 L2066.3,831.6 L2066.7,833.4 L2067.1,835.2 L2067.6,836.9 L2068.0,838.2 L2068.4,839.4 L2068.8,841.0 L2069.2,842.7 L2069.6,844.3 L2070.0,846.2 L2070.5,848.0 L2070.9,849.6 L2071.3,851.1 L2071.7,852.5 L2072.1,853.7 L2072.5,855.2 L2073.0,857.0 L2073.4,858.9 L2073.8,860.3 L2074.2,861.5 L2074.6,863.0 L2075.0,865.0 L2075.5,866.6 L2075.9,867.9 L2076.3,869.3 L2076.7,871.1 L2077.1,872.9 L2077.6,874.3 L2078.0,875.6 L2078.5,877.1 L2078.9,879.0 L2079.4,881.0 L2079.8,882.4 L2080.3,883.6 L2080.8,884.7 L2081.2,886.3 L2081.7,887.9 L2082.1,889.4 L2082.6,891.1 L2083.0,892.9 L2083.5,895.0 L2084.0,897.1 L2084.4,898.8 L2084.9,899.7 L2085.3,900.5 L2085.8,902.9 L2086.2,905.0 L2086.7,906.0 L2087.1,906.9 L2087.6,908.6 L2088.1,911.0 L2088.6,913.5 L2089.1,914.6 L2089.6,915.4 L2090.1,917.6 L2090.7,920.1 L2091.2,922.3 L2091.7,923.3 L2092.3,924.3 L2092.8,926.1 L2093.3,928.7 L2093.8,930.7 L2094.2,931.6 L2094.7,932.8 L2095.1,935.2 L2095.6,936.9 L2095.9,937.9 L2096.3,938.8 L2096.6,939.6 L2096.9,940.7 L2097.2,941.7 L2097.6,943.8 L2097.8,945.8 L2098.0,948.1 L2098.4,951.0 L2098.6,951.6 L2098.9,952.2 L2099.2,952.9 L2099.5,953.8 L2099.9,955.8 L2100.3,957.9 L2100.7,959.7 L2101.1,960.7 L2101.5,961.7 L2102.0,963.8 L2102.4,966.3 L2102.9,967.9 L2103.4,968.5 L2103.8,970.5 L2104.3,973.0 L2104.8,974.6 L2105.3,975.3 L2105.8,977.5 L2106.2,980.1 L2106.7,981.1 L2107.2,982.1 L2107.6,983.3 L2108.1,985.6 L2108.5,987.8 L2109.0,989.2 L2109.5,990.2 L2109.9,991.3 L2110.4,993.1 L2110.9,995.1 L2111.4,997.2 L2111.8,998.5 L2112.3,999.4 L2112.8,1000.3 L2113.3,1002.6 L2113.8,1004.8 L2114.3,1005.8 L2114.8,1006.8 L2115.2,1008.6 L2115.7,1010.7 L2116.2,1012.5 L2116.7,1013.6 L2117.2,1014.7 L2117.6,1016.1 L2118.1,1018.5 L2118.6,1020.0 L2119.1,1020.5 L2119.5,1022.4 L2120.0,1024.9 L2120.5,1026.4 L2120.9,1027.2 L2121.4,1028.9 L2121.9,1031.0 L2122.3,1032.7 L2122.8,1033.7 L2123.3,1034.7 L2123.8,1037.1 L2124.2,1039.5 L2124.7,1040.6 L2125.2,1041.6 L2125.7,1042.6 L2126.2,1044.4 L2126.7,1046.4 L2127.2,1048.2 L2127.7,1049.3 L2128.2,1050.4 L2128.8,1051.6 L2129.3,1054.1 L2129.9,1055.9 L2130.5,1056.6 L2131.0,1057.5 L2131.6,1059.7 L2132.1,1061.8 L2132.7,1063.2 L2133.3,1064.2 L2133.8,1065.3 L2134.4,1066.6 L2135.0,1068.1 L2135.5,1069.6 L2136.1,1071.7 L2136.6,1073.9 L2137.2,1076.0 L2137.7,1076.8 L2138.2,1077.5 L2138.8,1079.3 L2139.3,1081.5 L2139.8,1083.7 L2140.4,1084.5 L2140.9,1085.4 L2141.4,1087.4 L2141.9,1089.9 L2142.5,1091.4 L2143.0,1092.2 L2143.5,1093.6 L2144.0,1095.9 L2144.6,1098.0 L2145.1,1099.6 L2145.6,1101.3 L2146.1,1102.5 L2146.6,1103.5 L2147.2,1104.6 L2147.7,1106.3 L2148.2,1108.6 L2148.7,1110.7 L2149.3,1111.7 L2149.8,1112.6 L2150.3,1113.7 L2150.8,1116.0 L2151.3,1118.3 L2151.9,1119.8 L2152.4,1120.7 L2152.9,1122.3 L2153.4,1124.5 L2154.0,1126.7 L2154.5,1127.6 L2155.0,1128.2 L2155.6,1130.2 L2156.1,1132.9 L2156.6,1133.8 L2157.2,1134.6 L2157.8,1136.2 L2158.4,1138.4 L2159.0,1140.6 L2159.6,1141.7 L2160.2,1142.7 L2160.9,1144.4 L2161.5,1146.6 L2162.1,1148.6 L2162.7,1150.1 L2163.4,1151.3 L2164.0,1152.1 L2164.6,1153.5 L2165.3,1155.6 L2165.9,1157.6 L2166.5,1159.1 L2167.2,1159.9 L2167.8,1160.8 L2168.5,1162.7 L2169.2,1164.8 L2169.9,1166.9 L2170.6,1168.1 L2171.3,1169.0 L2171.9,1169.9 L2172.6,1171.8 L2173.3,1173.9 L2174.0,1176.0 L2174.7,1176.9 L2175.3,1177.3 L2176.0,1179.3 L2176.6,1181.7 L2177.2,1182.5 L2177.8,1183.1 L2178.4,1185.5 L2179.0,1187.8 L2179.6,1189.8 L2180.2,1191.3 L2180.8,1192.7 L2181.3,1194.2 L2181.9,1195.8 L2182.4,1197.2 L2183.0,1198.2 L2183.5,1199.2 L2184.1,1200.4 L2184.7,1202.6 L2185.4,1205.1 L2186.1,1206.2 L2186.9,1207.5 L2187.7,1210.6 L2188.6,1212.9 L2189.4,1214.1 L2190.1,1216.1 L2190.8,1218.5 L2191.4,1220.2 L2191.8,1220.8 L2192.1,1221.2 L2192.2,1221.4"/>
<path class="curve" stroke="#0070c0" d="M127.5,936.3 L127.8,936.0 L128.5,935.0 L129.7,933.5 L131.2,931.6 L132.9,932.4 L134.9,935.3 L136.9,938.5 L139.1,934.6 L141.2,929.7 L143.2,929.1 L145.0,928.5 L146.6,930.6 L148.2,933.2 L149.8,935.9 L151.5,938.1 L153.3,932.4 L155.0,926.7 L156.8,928.1 L158.5,932.0 L160.3,935.9 L162.0,932.1 L163.7,926.5 L165.4,926.7 L167.0,930.8 L168.5,934.8 L170.0,932.3 L171.9,927.2 L173.7,922.2 L175.5,922.0 L177.3,922.3 L179.0,922.6 L180.7,924.3 L182.2,927.0 L183.7,929.6 L185.0,931.8 L186.5,930.0 L187.7,925.4 L188.8,920.5 L189.9,916.4 L191.1,914.8 L192.5,913.7 L194.1,915.3 L195.9,919.1 L197.7,923.5 L199.6,923.1 L201.5,919.2 L203.4,915.7 L205.0,915.5 L206.5,914.7 L207.9,913.4 L209.3,915.8 L210.6,918.4 L211.9,920.8 L213.1,917.3 L214.1,913.5 L215.0,911.3 L215.6,910.0 L216.1,908.2 L216.4,909.4 L216.7,911.7 L216.8,914.2 L217.0,919.5 L217.0,927.1 L217.1,933.0 L217.1,930.8 L217.2,928.8 L217.2,929.6 L217.3,931.0 L217.4,931.9 L217.5,932.2 L217.7,932.0 L217.8,931.4 L217.9,930.5 L217.9,930.2 L218.0,930.8 L218.0,931.5 L218.0,932.2 L218.1,925.7 L218.1,918.2 L218.2,920.2 L218.2,922.5 L218.3,916.0 L218.5,909.6 L218.6,908.5 L218.8,910.7 L219.1,912.7 L219.4,912.6 L219.8,906.9 L220.2,902.1 L220.7,898.3 L221.3,898.1 L222.5,901.6 L224.0,906.8 L225.6,906.7 L227.4,904.4 L229.1,902.9 L230.9,907.0 L232.6,910.2 L233.9,912.3 L235.3,912.4 L236.7,908.2 L238.1,903.6 L239.5,898.8 L240.9,899.4 L242.3,902.0 L243.7,904.6 L245.1,901.7 L246.7,896.8 L248.4,892.3 L250.1,893.2 L251.7,897.1 L253.4,901.0 L255.1,899.6 L256.7,893.8 L258.4,888.4 L260.0,891.4 L261.7,894.4 L263.3,897.0 L265.1,893.3 L266.6,889.7 L268.3,887.9 L270.1,889.8 L271.8,891.6 L273.5,888.8 L275.0,884.9 L276.4,882.0 L277.6,880.7 L278.5,885.1 L279.2,891.7 L279.8,894.4 L280.2,889.1 L280.5,892.3 L280.9,896.3 L281.3,898.0 L281.6,898.4 L281.8,898.9 L281.9,899.6 L282.0,898.3 L282.1,893.6 L282.2,888.3 L282.2,885.3 L282.3,888.2 L282.3,888.5 L282.4,880.1 L282.5,875.3 L282.7,880.6 L282.9,877.8 L283.2,870.3 L283.5,866.5 L283.9,869.2 L284.5,871.6 L285.1,872.2 L286.4,868.2 L288.0,864.7 L289.7,861.3 L291.5,863.8 L293.3,867.6 L295.1,869.7 L296.8,866.5 L298.4,863.5 L300.1,860.4 L301.8,860.5 L303.5,863.1 L305.1,865.5 L306.6,865.9 L308.1,860.6 L309.5,855.0 L311.0,857.4 L312.4,861.4 L313.8,859.8 L315.1,853.3 L316.5,848.1 L317.8,850.7 L319.0,853.2 L320.3,851.5 L321.4,846.1 L322.6,842.4 L323.9,845.0 L325.2,852.5 L326.5,854.6 L327.6,852.1 L328.2,849.5 L328.8,844.7 L329.3,847.2 L329.7,852.4 L330.2,850.5 L330.6,847.6 L331.1,844.9 L331.5,842.9 L332.0,841.6 L332.6,841.1 L333.1,841.3 L333.7,842.2 L334.3,842.0 L334.8,840.4 L335.4,838.7 L336.0,842.7 L336.7,849.9 L337.3,852.5 L338.0,849.4 L338.7,848.6 L339.4,852.5 L340.1,854.8 L341.1,856.7 L342.2,856.1 L343.3,850.8 L344.4,845.1 L345.6,842.6 L346.6,844.5 L347.6,846.2 L348.2,847.8 L348.7,850.3 L349.1,853.8 L349.6,852.1 L350.0,849.1 L350.4,853.0 L350.7,856.3 L351.1,859.2 L351.5,861.4 L351.8,863.3 L352.2,863.8 L352.6,864.3 L353.0,867.1 L353.5,869.8 L354.0,872.0 L354.5,872.7 L355.1,872.6 L356.7,871.7 L358.5,871.3 L360.1,873.0 L360.9,874.7 L361.7,875.9 L362.4,876.4 L363.1,877.1 L363.7,877.9 L364.4,880.2 L365.0,882.9 L365.7,885.7 L366.3,886.4 L367.0,887.0 L367.6,889.4 L368.2,892.0 L368.8,894.6 L369.4,895.3 L370.0,895.5 L370.5,897.0 L371.1,899.9 L371.7,902.6 L372.3,903.2 L372.8,903.8 L373.4,904.5 L374.0,905.6 L374.6,908.3 L375.1,910.9 L375.7,912.6 L376.2,913.4 L376.7,914.1 L377.2,915.0 L377.8,917.6 L378.3,920.2 L378.8,921.9 L379.3,922.6 L379.8,923.4 L380.4,925.0 L380.9,927.9 L381.5,930.6 L382.0,931.3 L382.6,932.1 L383.1,932.7 L383.6,934.7 L384.2,937.0 L384.7,939.3 L385.2,941.6 L385.8,942.0 L386.3,942.5 L386.9,943.3 L387.4,946.0 L388.0,948.7 L388.5,950.9 L389.1,951.2 L389.7,951.5 L390.3,953.3 L390.8,956.1 L391.4,958.7 L392.0,960.1 L392.6,961.5 L393.4,963.2 L394.1,964.6 L394.9,965.4 L395.7,966.2 L396.5,967.0 L397.3,968.9 L398.1,971.4 L398.9,974.0 L399.7,975.2 L400.5,975.6 L401.2,976.0 L401.9,977.0 L402.6,979.5 L403.3,982.0 L403.9,984.5 L404.5,985.4 L405.0,985.8 L405.6,986.9 L406.1,989.4 L406.7,991.8 L407.2,992.4 L407.8,992.7 L408.3,994.2 L408.9,997.2 L409.5,1000.3 L410.1,1000.6 L410.7,1000.6 L411.4,1001.4 L412.0,1002.9 L412.7,1004.4 L413.3,1005.9 L414.0,1008.0 L414.7,1010.4 L415.3,1012.8 L416.0,1015.3 L416.7,1016.0 L417.4,1016.6 L418.1,1017.1 L418.8,1018.4 L419.5,1019.9 L420.1,1022.1 L420.8,1023.7 L421.5,1025.6 L422.1,1027.6 L422.8,1029.2 L423.5,1030.2 L424.1,1031.3 L424.8,1032.8 L425.5,1034.6 L426.1,1036.4 L426.8,1038.1 L427.5,1039.2 L428.1,1040.3 L428.8,1041.7 L429.5,1043.6 L430.1,1045.5 L430.8,1047.1 L431.5,1048.3 L432.1,1049.5 L432.8,1050.7 L433.5,1052.1 L434.1,1054.2 L434.8,1056.3 L435.4,1057.6 L436.1,1058.8 L436.8,1059.9 L437.4,1061.2 L438.1,1063.0 L438.8,1064.8 L439.5,1066.6 L440.1,1067.7 L440.9,1068.7 L441.6,1070.2 L442.4,1072.3 L443.1,1074.3 L443.9,1075.9 L444.6,1076.9 L445.4,1077.9 L446.2,1079.7 L446.9,1081.6 L447.7,1083.4 L448.5,1085.1 L449.3,1086.6 L450.1,1088.2 L450.9,1089.4 L451.6,1090.5 L452.4,1091.5 L453.1,1092.6 L453.9,1094.1 L454.7,1095.9 L455.5,1097.7 L456.3,1099.2 L457.1,1100.1 L457.9,1101.1 L458.7,1102.9 L459.5,1104.8 L460.3,1106.3 L461.1,1107.4 L461.9,1108.4 L462.7,1109.5 L463.4,1111.1 L464.2,1112.9 L465.0,1114.8 L465.7,1116.2 L466.5,1117.3 L467.3,1118.4 L468.0,1119.5 L468.8,1121.1 L469.5,1122.9 L470.3,1124.7 L471.1,1126.2 L471.9,1127.1 L472.7,1128.0 L473.5,1129.2 L474.3,1131.1 L475.2,1132.9 L476.0,1134.5 L476.9,1135.6 L477.8,1136.6 L478.7,1137.7 L479.7,1139.3 L480.6,1141.1 L481.5,1142.8 L482.5,1144.5 L483.4,1145.5 L484.4,1146.4 L485.4,1147.7 L486.3,1149.5 L487.3,1151.2 L488.2,1152.9 L489.2,1154.1 L490.2,1155.2 L491.2,1156.3 L492.2,1157.4 L493.2,1159.1 L494.2,1160.8 L495.2,1162.6 L496.2,1164.0 L497.3,1165.1 L498.3,1166.2 L499.3,1167.2 L500.3,1168.9 L501.3,1170.5 L502.3,1172.0 L503.3,1173.1 L504.2,1174.0 L505.2,1174.7 L506.4,1176.4 L507.6,1178.3 L508.8,1179.9 L510.0,1180.7 L511.1,1181.5 L512.4,1182.4 L513.6,1184.0 L515.0,1185.5 L516.2,1186.5 L517.4,1187.5 L518.7,1188.4 L520.0,1189.4 L521.4,1190.1 L522.8,1190.7 L524.2,1191.3 L525.6,1191.9 L527.1,1192.9 L528.5,1194.2 L530.0,1195.5 L531.4,1196.5 L532.9,1197.0 L534.3,1197.4 L535.8,1197.8 L537.3,1198.5 L538.9,1199.2 L540.4,1199.9 L542.0,1200.7 L543.6,1201.9 L545.2,1203.1 L546.8,1204.1 L548.4,1204.3 L550.0,1204.6 L551.4,1205.3 L552.8,1206.4 L554.2,1207.5 L555.7,1208.5 L557.1,1208.8 L558.6,1209.1 L560.1,1209.4 L561.5,1210.2 L563.0,1211.4 L564.5,1212.5 L566.0,1213.4 L567.5,1213.5 L569.0,1213.5 L570.5,1214.3 L572.0,1215.3 L573.5,1216.2 L575.0,1216.9 L576.6,1217.1 L578.2,1217.2 L579.7,1217.5 L581.3,1218.5 L582.9,1219.5 L584.5,1219.6 L586.1,1219.7 L587.8,1219.7 L589.3,1220.3 L590.9,1221.1 L592.5,1221.9 L594.1,1221.8 L595.6,1221.6 L597.1,1221.7 L598.6,1222.3 L600.0,1222.8 L601.9,1223.4 L603.7,1223.3 L605.5,1223.0 L607.3,1222.8 L609.1,1223.4 L610.8,1223.9 L612.5,1224.2 L614.2,1223.8 L615.9,1223.5 L617.6,1223.6 L619.3,1223.9 L621.0,1224.1 L622.6,1224.3 L624.3,1223.7 L625.9,1223.1 L627.6,1223.0 L629.2,1223.1 L630.9,1223.2 L632.6,1223.2 L634.1,1222.5 L635.7,1221.5 L637.3,1220.8 L638.8,1220.6 L640.4,1220.2 L642.0,1219.7 L643.6,1218.6 L645.2,1217.5 L646.8,1216.9 L648.4,1216.5 L650.1,1216.1 L651.5,1215.7 L652.9,1214.5 L654.4,1213.3 L655.9,1212.2 L657.5,1211.5 L659.0,1210.7 L660.5,1209.9 L662.0,1209.6 L663.5,1209.3 L664.9,1208.8 L666.3,1207.7 L667.6,1206.7 L668.9,1205.6 L670.1,1204.8 L671.5,1204.1 L672.8,1203.3 L674.0,1202.4 L675.2,1201.0 L676.3,1199.5 L677.5,1198.1 L678.7,1197.1 L680.1,1196.5 L681.4,1195.9 L682.8,1195.1 L684.3,1194.0 L685.8,1192.8 L687.3,1191.7 L688.9,1191.3 L690.4,1190.8 L692.0,1190.3 L693.6,1189.5 L695.1,1188.2 L696.3,1187.1 L697.6,1186.0 L698.8,1185.1 L700.1,1184.4 L701.3,1183.8 L702.6,1182.9 L703.8,1181.8 L705.1,1180.8 L706.3,1179.7 L707.6,1178.3 L708.9,1177.0 L710.1,1175.6 L711.3,1174.6 L712.6,1173.8 L713.9,1173.1 L715.1,1172.4 L716.4,1171.1 L717.6,1169.6 L718.9,1168.1 L720.1,1166.7 L721.4,1165.5 L722.6,1164.4 L723.9,1163.2 L725.1,1162.3 L726.4,1161.7 L727.6,1161.1 L728.9,1160.3 L730.1,1158.9 L731.5,1157.4 L732.9,1156.7 L734.3,1156.2 L735.7,1155.3 L737.1,1154.0 L738.5,1152.7 L739.9,1151.5 L741.2,1150.9 L742.5,1150.4 L743.8,1150.0 L745.1,1149.4 L746.9,1148.0 L748.5,1146.6 L750.2,1145.5 L751.8,1145.0 L753.4,1144.6 L755.1,1144.3 L756.8,1143.7 L758.4,1142.9 L760.1,1142.2 L761.8,1142.2 L763.5,1142.6 L765.1,1143.1 L766.8,1143.0 L768.4,1143.1 L770.1,1143.3 L771.7,1144.0 L773.4,1145.1 L775.1,1146.0 L776.6,1146.2 L778.2,1146.5 L779.7,1147.1 L781.3,1148.2 L782.9,1149.2 L784.5,1149.3 L786.1,1149.1 L787.6,1149.2 L789.2,1149.4 L790.8,1149.3 L792.3,1148.8 L793.9,1147.8 L795.4,1146.8 L797.0,1146.1 L798.6,1145.6 L800.1,1145.3 L801.7,1145.0 L803.3,1144.3 L804.8,1143.5 L806.4,1142.7 L807.9,1142.2 L809.5,1142.1 L811.1,1142.1 L812.6,1141.6 L814.2,1140.9 L815.8,1140.2 L817.3,1139.5 L818.9,1139.1 L820.5,1138.8 L822.0,1138.5 L823.6,1138.4 L825.1,1138.4 L826.7,1138.2 L828.3,1137.3 L829.9,1136.3 L831.5,1135.2 L833.0,1134.4 L834.6,1133.6 L836.1,1132.8 L837.7,1132.2 L839.1,1131.8 L840.5,1131.2 L841.9,1129.8 L843.2,1128.4 L844.6,1127.3 L846.0,1126.3 L847.4,1125.3 L848.8,1124.4 L850.2,1123.8 L851.5,1123.2 L852.9,1122.7 L854.3,1121.9 L855.7,1121.0 L857.1,1120.2 L858.5,1119.3 L859.9,1118.2 L861.3,1117.0 L862.7,1115.7 L864.0,1115.1 L865.4,1114.8 L866.8,1114.4 L868.1,1113.0 L869.5,1111.6 L870.9,1110.6 L872.3,1109.8 L873.7,1109.0 L875.2,1108.4 L876.7,1108.1 L878.3,1107.8 L879.9,1107.6 L881.5,1107.2 L883.2,1106.6 L884.9,1106.0 L886.6,1105.2 L888.4,1104.2 L890.2,1103.1 L891.6,1102.9 L893.2,1102.8 L894.7,1102.7 L896.3,1102.1 L897.9,1101.2 L899.5,1100.3 L901.2,1099.6 L902.8,1099.5 L904.5,1099.4 L906.1,1098.9 L907.8,1098.0 L909.4,1097.1 L911.1,1096.3 L912.7,1096.0 L914.2,1095.8 L915.7,1095.5 L917.2,1094.9 L918.7,1093.8 L920.2,1092.8 L921.7,1092.3 L923.3,1092.0 L924.8,1091.7 L926.3,1091.4 L927.8,1090.6 L929.3,1089.7 L930.8,1088.9 L932.2,1088.1 L933.7,1087.8 L935.2,1087.7 L936.9,1087.6 L938.6,1086.9 L940.4,1086.2 L942.1,1085.5 L943.9,1084.9 L945.6,1085.2 L947.3,1085.4 L949.0,1084.7 L950.6,1083.9 L952.2,1083.2 L953.7,1083.0 L955.2,1082.7 L956.8,1082.3 L958.3,1081.6 L959.7,1080.9 L961.1,1080.0 L962.4,1078.8 L963.7,1077.6 L965.1,1076.3 L966.4,1075.6 L967.7,1075.0 L969.0,1074.4 L970.3,1073.4 L971.5,1071.8 L972.7,1070.2 L974.0,1069.2 L975.2,1068.2 L976.4,1067.3 L977.7,1066.3 L978.9,1064.9 L980.2,1063.6 L981.6,1062.3 L982.9,1061.3 L984.3,1061.0 L985.7,1060.8 L987.1,1059.9 L988.5,1058.8 L989.9,1057.7 L991.3,1056.5 L992.7,1055.9 L994.0,1055.4 L995.4,1054.9 L996.7,1054.2 L998.0,1052.9 L999.4,1051.7 L1000.7,1050.4 L1002.1,1049.7 L1003.5,1049.1 L1004.9,1048.5 L1006.3,1047.8 L1007.7,1046.5 L1009.1,1045.2 L1010.5,1044.2 L1012.0,1043.8 L1013.4,1043.3 L1014.9,1042.9 L1016.3,1041.8 L1017.8,1040.7 L1019.3,1039.6 L1020.8,1039.1 L1022.3,1038.8 L1023.7,1038.5 L1025.2,1038.2 L1026.8,1037.2 L1028.4,1036.4 L1030.0,1035.5 L1031.6,1035.3 L1033.2,1035.1 L1034.8,1035.0 L1036.4,1034.9 L1038.0,1034.3 L1039.6,1033.4 L1041.2,1032.7 L1042.7,1032.5 L1044.3,1032.1 L1045.8,1031.8 L1047.3,1031.1 L1048.7,1029.9 L1050.2,1028.5 L1051.7,1026.7 L1053.1,1025.7 L1054.6,1026.2 L1056.1,1026.6 L1057.5,1027.0 L1059.0,1026.4 L1060.7,1025.7 L1062.3,1025.2 L1064.0,1024.5 L1065.6,1023.2 L1067.3,1022.0 L1068.9,1020.7 L1070.6,1020.8 L1072.3,1021.5 L1074.0,1022.2 L1075.6,1022.7 L1077.1,1021.4 L1078.7,1019.5 L1080.3,1018.2 L1081.9,1018.9 L1083.5,1019.7 L1085.1,1019.2 L1086.7,1017.3 L1088.3,1016.2 L1089.9,1016.8 L1091.5,1017.4 L1093.1,1017.5 L1094.7,1016.3 L1096.4,1015.1 L1098.0,1013.8 L1099.6,1013.8 L1101.2,1014.2 L1102.9,1014.7 L1104.4,1013.4 L1106.0,1012.0 L1107.5,1011.1 L1109.0,1010.8 L1110.9,1010.6 L1112.8,1010.4 L1114.6,1010.9 L1116.4,1012.1 L1118.2,1013.3 L1119.9,1012.9 L1121.5,1012.2 L1123.3,1011.7 L1125.1,1013.9 L1126.9,1016.4 L1128.5,1017.1 L1130.1,1016.8 L1131.5,1016.2 L1133.4,1016.5 L1135.0,1017.2 L1136.5,1016.4 L1137.3,1014.1 L1138.0,1011.0 L1138.6,1010.1 L1139.2,1009.1 L1139.8,1007.2 L1140.4,1003.9 L1141.0,1001.6 L1141.6,1001.0 L1142.2,1000.6 L1142.8,1000.6 L1143.4,1001.4 L1144.0,1003.2 L1144.6,1004.5 L1145.2,1004.8 L1145.8,1007.2 L1146.5,1010.4 L1147.1,1012.5 L1147.7,1013.3 L1148.4,1013.8 L1149.0,1013.9 L1149.9,1013.7 L1150.6,1013.4 L1151.4,1013.0 L1152.3,1010.3 L1153.2,1006.9 L1154.2,1005.5 L1155.3,1005.4 L1156.9,1005.8 L1158.7,1006.0 L1160.6,1005.1 L1162.4,1004.1 L1164.0,1002.7 L1165.1,1002.4 L1166.1,1001.9 L1167.0,1001.2 L1167.8,1000.0 L1168.7,997.5 L1169.6,995.0 L1170.5,992.7 L1171.6,992.3 L1172.9,992.4 L1174.3,992.0 L1175.8,991.1 L1177.4,990.1 L1178.9,989.1 L1180.3,988.0 L1181.6,986.8 L1182.5,985.7 L1183.3,983.9 L1184.1,981.4 L1184.9,978.9 L1185.6,976.7 L1186.2,976.4 L1186.9,976.2 L1187.6,974.2 L1188.3,971.9 L1189.1,969.6 L1189.9,967.2 L1190.7,966.6 L1191.5,966.3 L1192.4,965.7 L1193.2,964.0 L1194.1,962.3 L1194.9,960.4 L1195.7,957.8 L1196.6,955.3 L1197.4,953.9 L1198.2,953.3 L1199.1,952.7 L1199.9,952.1 L1200.7,949.5 L1201.5,946.8 L1202.4,944.2 L1203.2,943.3 L1204.1,942.7 L1204.9,942.2 L1205.7,941.1 L1206.6,939.7 L1207.4,938.3 L1208.3,936.9 L1209.1,934.8 L1209.9,932.6 L1210.8,930.4 L1211.6,928.5 L1212.3,927.0 L1213.1,925.5 L1213.8,923.9 L1214.5,922.5 L1215.3,921.1 L1216.0,919.8 L1216.7,919.2 L1217.5,918.6 L1218.3,917.9 L1219.1,916.7 L1220.1,915.4 L1221.3,913.2 L1222.5,910.6 L1223.7,908.3 L1224.8,908.4 L1225.8,908.4 L1226.6,905.9 L1227.1,902.8 L1227.4,901.2 L1227.6,900.8 L1227.6,898.4 L1227.7,895.2 L1227.9,892.3 L1228.1,890.8 L1228.5,890.9 L1229.1,891.2 L1230.4,891.7 L1232.1,891.0 L1233.8,891.3 L1235.3,892.4 L1236.1,892.4 L1236.8,892.1 L1237.5,890.9 L1238.1,889.4 L1238.7,887.5 L1239.3,884.7 L1239.8,881.9 L1240.4,879.0 L1241.0,878.1 L1241.6,877.5 L1242.2,876.9 L1242.9,875.3 L1243.5,872.8 L1244.2,870.6 L1244.9,870.4 L1245.5,870.1 L1246.2,869.1 L1246.8,867.4 L1247.3,865.5 L1247.8,862.8 L1248.2,860.1 L1248.6,857.9 L1248.9,856.7 L1249.1,855.4 L1249.3,853.5 L1249.6,850.0 L1249.8,847.4 L1250.0,846.2 L1250.3,845.5 L1250.7,844.9 L1251.1,844.5 L1251.6,844.3 L1252.8,845.1 L1254.1,847.3 L1255.5,849.5 L1256.6,848.8 L1257.0,847.8 L1257.4,846.2 L1257.7,844.0 L1257.9,842.1 L1258.1,841.8 L1258.2,841.6 L1258.3,840.7 L1258.4,836.5 L1258.5,833.3 L1258.6,832.7 L1258.7,832.1 L1258.8,830.3 L1258.9,826.8 L1259.1,823.4 L1259.2,822.1 L1259.4,821.6 L1259.5,821.0 L1259.7,820.4 L1259.8,817.6 L1259.9,814.5 L1260.1,811.2 L1260.2,809.3 L1260.4,808.3 L1260.5,807.2 L1260.7,804.7 L1260.8,801.1 L1261.0,798.8 L1261.1,797.9 L1261.3,797.2 L1261.4,796.4 L1261.6,792.8 L1261.7,789.3 L1261.9,786.9 L1262.0,785.7 L1262.2,784.7 L1262.3,783.9 L1262.5,783.3 L1262.7,782.9 L1262.8,782.8 L1263.0,782.9 L1263.3,783.5 L1263.5,784.8 L1263.7,786.7 L1263.9,789.1 L1264.1,791.8 L1264.4,793.1 L1264.6,793.9 L1264.8,794.7 L1265.0,798.1 L1265.3,801.6 L1265.5,804.0 L1265.7,804.5 L1265.9,805.0 L1266.2,806.8 L1266.4,808.4 L1266.6,810.3 L1266.8,813.1 L1267.0,815.8 L1267.2,818.7 L1267.4,820.6 L1267.6,821.4 L1267.8,822.3 L1268.0,823.1 L1268.2,825.1 L1268.3,827.9 L1268.5,830.8 L1268.7,832.3 L1268.9,832.6 L1269.2,833.0 L1269.4,833.9 L1269.6,837.0 L1269.8,840.1 L1270.1,843.0 L1270.3,844.6 L1270.7,846.3 L1271.0,848.0 L1271.3,849.3 L1271.6,849.8 L1272.0,850.2 L1272.3,851.5 L1272.7,854.4 L1273.1,857.3 L1273.4,859.1 L1273.8,858.9 L1274.2,858.7 L1274.6,860.9 L1275.0,863.3 L1275.3,865.6 L1275.8,868.2 L1276.2,869.1 L1276.7,869.6 L1277.2,870.1 L1277.7,871.8 L1278.1,874.4 L1278.6,876.9 L1279.1,879.4 L1279.5,880.3 L1279.9,880.5 L1280.3,880.8 L1280.7,883.6 L1281.0,886.8 L1281.3,889.9 L1281.6,890.3 L1281.9,890.7 L1282.2,891.0 L1282.5,893.4 L1282.8,896.0 L1283.2,898.7 L1283.6,899.2 L1284.1,899.3 L1284.8,901.0 L1285.6,905.2 L1286.5,907.1 L1287.4,907.0 L1288.4,906.8 L1289.4,907.3 L1290.4,907.8 L1291.6,907.7 L1292.8,906.9 L1294.1,905.9 L1295.4,906.0 L1296.6,906.1 L1297.6,906.1 L1298.6,903.7 L1299.5,900.7 L1300.5,897.8 L1301.6,897.7 L1303.0,898.6 L1304.5,899.7 L1306.1,897.9 L1307.6,896.0 L1309.1,893.9 L1310.5,893.7 L1311.8,894.0 L1313.2,894.1 L1314.4,891.0 L1315.6,887.7 L1316.6,886.8 L1317.3,886.5 L1317.8,886.2 L1318.1,884.2 L1318.4,881.2 L1318.7,878.2 L1319.0,876.3 L1319.3,875.3 L1319.8,874.5 L1320.4,873.8 L1321.3,871.9 L1322.3,869.4 L1323.5,867.1 L1324.6,866.0 L1325.7,866.7 L1326.6,866.8 L1327.2,864.5 L1327.6,862.0 L1328.1,859.4 L1328.5,858.3 L1328.9,858.2 L1329.2,858.2 L1329.6,856.4 L1329.9,853.6 L1330.2,850.8 L1330.5,847.9 L1330.8,847.7 L1331.1,847.4 L1331.3,845.0 L1331.6,842.1 L1331.8,839.9 L1332.0,837.6 L1332.2,837.4 L1332.4,837.5 L1332.6,836.4 L1332.7,833.7 L1332.9,831.0 L1333.0,828.3 L1333.1,827.0 L1333.3,826.2 L1333.4,825.5 L1333.5,824.7 L1333.7,821.4 L1333.8,817.8 L1333.9,816.0 L1334.1,816.2 L1334.2,816.3 L1334.4,813.0 L1334.6,809.8 L1334.7,807.0 L1334.9,806.5 L1335.1,806.0 L1335.4,805.6 L1335.7,804.6 L1336.1,801.0 L1336.4,797.8 L1336.8,797.5 L1337.2,797.2 L1337.6,795.8 L1338.0,794.1 L1338.5,792.5 L1338.9,790.9 L1339.4,788.6 L1339.9,786.4 L1340.4,784.3 L1341.1,781.6 L1341.9,781.4 L1342.7,779.9 L1343.5,776.3 L1344.4,773.7 L1345.4,773.2 L1346.3,774.6 L1347.4,777.1 L1348.5,778.7 L1349.6,778.7 L1350.6,779.6 L1351.6,782.2 L1352.5,784.5 L1353.4,786.9 L1354.2,786.9 L1355.0,787.0 L1355.8,788.7 L1356.5,791.9 L1357.2,794.9 L1357.9,795.6 L1358.3,796.2 L1358.7,796.9 L1359.0,799.9 L1359.3,803.2 L1359.5,806.6 L1359.7,807.2 L1360.0,807.7 L1360.3,808.1 L1360.7,810.8 L1361.1,812.8 L1361.6,813.9 L1362.5,814.8 L1363.6,812.8 L1364.8,810.1 L1366.0,806.8 L1367.2,806.0 L1368.2,805.2 L1369.1,804.2 L1369.6,803.0 L1369.9,801.5 L1370.2,800.0 L1370.4,798.0 L1370.5,795.1 L1370.6,792.2 L1370.7,789.2 L1370.8,788.0 L1370.8,787.3 L1370.9,786.7 L1371.0,784.0 L1371.1,780.9 L1371.3,778.0 L1371.6,776.5 L1371.9,776.1 L1372.4,775.8 L1372.9,775.7 L1374.9,775.7 L1377.2,773.7 L1379.1,772.9 L1379.8,773.0 L1380.4,773.9 L1380.8,776.4 L1381.1,779.3 L1381.4,782.2 L1381.6,782.2 L1381.9,782.8 L1382.1,786.7 L1382.5,790.3 L1382.9,792.5 L1383.5,794.1 L1384.1,795.6 L1384.7,796.6 L1385.4,797.0 L1386.1,797.4 L1386.7,797.9 L1387.3,800.2 L1387.9,803.0 L1388.2,805.2 L1388.5,806.9 L1388.8,807.4 L1389.0,807.9 L1389.2,808.9 L1389.4,811.7 L1389.6,814.5 L1389.8,817.3 L1390.0,817.7 L1390.2,817.9 L1390.5,819.4 L1390.8,821.9 L1391.2,824.4 L1391.6,826.7 L1392.3,827.3 L1393.0,827.2 L1393.8,828.0 L1394.7,831.1 L1395.6,834.1 L1396.5,834.6 L1397.4,834.5 L1398.3,834.8 L1399.2,837.7 L1400.2,841.3 L1401.3,842.1 L1402.3,842.4 L1403.4,842.6 L1404.5,844.2 L1405.6,847.0 L1406.7,849.3 L1408.2,849.1 L1409.8,848.8 L1411.7,848.0 L1413.1,848.2 L1414.8,849.5 L1416.5,850.7 L1418.3,850.8 L1420.0,849.4 L1421.7,848.1 L1423.6,846.4 L1425.4,846.7 L1427.2,847.4 L1429.2,847.8 L1430.8,846.3 L1432.6,844.7 L1434.4,843.1 L1436.1,842.5 L1437.8,843.0 L1439.2,843.3 L1440.4,843.2 L1441.2,841.0 L1442.0,838.0 L1442.9,835.1 L1444.2,833.7 L1445.5,833.9 L1447.0,834.3 L1448.7,835.0 L1450.5,834.1 L1452.2,831.8 L1453.9,830.3 L1455.4,831.0 L1456.7,831.3 L1457.6,831.3 L1458.4,828.6 L1459.0,825.6 L1459.5,822.6 L1459.9,820.9 L1460.4,820.6 L1461.0,820.3 L1461.7,818.5 L1462.6,815.6 L1463.5,812.6 L1464.5,812.3 L1465.6,812.7 L1466.7,810.4 L1467.9,807.5 L1469.2,805.7 L1470.7,806.2 L1472.4,807.0 L1474.2,808.0 L1476.0,808.3 L1477.7,807.0 L1479.2,806.1 L1480.5,806.1 L1481.7,807.4 L1482.8,808.9 L1483.9,810.6 L1484.9,811.9 L1485.8,813.3 L1486.7,816.5 L1487.5,819.3 L1488.2,822.2 L1488.8,822.5 L1489.5,822.7 L1490.1,822.9 L1490.6,825.8 L1491.2,829.5 L1491.7,832.1 L1492.1,832.6 L1492.5,833.1 L1492.9,833.6 L1493.2,835.1 L1493.5,838.3 L1493.9,841.6 L1494.2,843.3 L1494.5,845.1 L1494.8,846.8 L1495.1,847.0 L1495.4,847.0 L1495.8,848.0 L1496.0,851.3 L1496.3,854.8 L1496.5,855.0 L1496.7,855.0 L1497.0,858.2 L1497.2,861.3 L1497.6,864.0 L1498.0,866.2 L1498.6,866.1 L1499.2,865.7 L1500.6,864.1 L1502.3,862.0 L1504.0,862.4 L1505.4,863.3 L1506.1,864.5 L1506.6,865.8 L1507.0,866.0 L1507.4,866.3 L1507.6,866.6 L1507.9,870.0 L1508.1,873.8 L1508.3,875.0 L1508.6,875.2 L1508.9,876.5 L1509.2,879.5 L1509.6,882.4 L1510.0,884.7 L1510.4,884.7 L1510.8,884.8 L1511.3,888.0 L1511.7,891.2 L1512.1,894.3 L1512.6,894.6 L1513.0,894.6 L1513.4,894.6 L1513.8,896.9 L1514.2,900.0 L1514.6,903.2 L1514.9,904.3 L1515.3,904.0 L1515.7,904.1 L1516.0,905.5 L1516.3,907.0 L1516.7,909.4 L1517.0,912.2 L1517.3,915.1 L1517.6,917.4 L1518.0,918.1 L1518.2,918.7 L1518.5,919.4 L1518.8,920.3 L1519.0,923.1 L1519.3,925.9 L1519.6,928.7 L1519.8,931.1 L1520.1,931.0 L1520.3,931.0 L1520.6,931.6 L1520.8,935.2 L1521.0,938.7 L1521.3,940.8 L1521.5,940.1 L1521.7,940.0 L1521.9,943.0 L1522.1,946.1 L1522.3,949.1 L1522.4,951.3 L1522.6,951.3 L1522.7,951.3 L1522.9,953.0 L1523.0,956.3 L1523.2,959.5 L1523.4,961.3 L1523.5,962.6 L1523.7,963.7 L1524.0,964.4 L1524.2,965.1 L1524.6,965.9 L1525.0,967.0 L1525.4,969.9 L1525.8,972.7 L1526.3,975.5 L1526.7,976.9 L1527.1,977.1 L1527.6,977.3 L1528.0,979.1 L1528.2,981.9 L1528.5,984.7 L1528.8,987.6 L1529.1,986.9 L1529.3,986.0 L1529.6,988.3 L1529.8,991.4 L1530.1,994.6 L1530.3,997.5 L1530.6,997.6 L1530.8,997.8 L1531.0,997.9 L1531.3,1000.9 L1531.5,1003.9 L1531.7,1006.7 L1531.9,1008.1 L1532.1,1008.6 L1532.2,1009.1 L1532.3,1011.6 L1532.3,1015.6 L1532.4,1019.0 L1532.6,1020.8 L1532.7,1022.4 L1533.0,1023.9 L1533.3,1024.3 L1533.7,1024.3 L1534.2,1024.2 L1535.7,1025.5 L1537.5,1027.7 L1539.2,1029.7 L1540.2,1029.5 L1541.1,1029.5 L1542.0,1034.0 L1542.8,1037.2 L1543.5,1037.7 L1544.2,1037.6 L1544.5,1037.1 L1544.8,1036.0 L1545.0,1034.4 L1545.2,1032.5 L1545.4,1032.4 L1545.6,1032.3 L1545.7,1031.3 L1545.9,1027.3 L1546.0,1023.1 L1546.1,1021.1 L1546.2,1021.1 L1546.3,1018.1 L1546.4,1013.3 L1546.6,1012.2 L1546.7,1011.9 L1546.8,1011.7 L1546.9,1008.2 L1547.1,1005.2 L1547.3,1002.6 L1547.5,1001.6 L1547.7,1001.5 L1548.0,1001.6 L1548.4,1002.7 L1549.0,1005.4 L1549.6,1008.0 L1550.1,1008.2 L1550.8,1008.6 L1551.4,1014.2 L1551.9,1018.4 L1552.5,1019.6 L1553.0,1020.0 L1553.3,1019.5 L1553.6,1018.5 L1553.9,1016.8 L1554.2,1014.1 L1554.4,1010.7 L1554.6,1007.1 L1554.9,1004.5 L1555.1,1002.0 L1555.3,999.6 L1555.6,997.4 L1555.8,995.6 L1556.1,994.7 L1556.4,994.9 L1556.7,995.2 L1557.1,996.0 L1557.5,997.8 L1558.0,999.7 L1558.4,999.6 L1558.9,999.5 L1559.4,1001.0 L1559.8,1004.4 L1560.3,1007.8 L1560.8,1010.1 L1561.3,1010.9 L1561.7,1011.6 L1562.2,1012.2 L1562.7,1014.4 L1563.1,1016.9 L1563.6,1019.4 L1564.1,1021.9 L1564.6,1023.1 L1565.0,1023.7 L1565.5,1024.3 L1565.9,1025.0 L1566.3,1027.5 L1566.7,1030.5 L1567.0,1033.2 L1567.3,1035.9 L1567.6,1036.3 L1567.9,1036.2 L1568.1,1036.2 L1568.4,1039.2 L1568.6,1042.2 L1568.9,1045.3 L1569.1,1045.6 L1569.3,1045.7 L1569.5,1045.8 L1569.8,1048.6 L1570.0,1051.7 L1570.2,1054.9 L1570.5,1057.8 L1570.7,1057.4 L1571.0,1057.0 L1571.2,1058.0 L1571.4,1059.4 L1571.6,1061.6 L1571.8,1064.6 L1572.0,1067.7 L1572.2,1070.7 L1572.5,1071.3 L1572.7,1071.4 L1573.0,1071.4 L1573.3,1074.7 L1573.6,1078.3 L1573.9,1081.7 L1574.2,1082.8 L1574.8,1084.2 L1575.4,1084.9 L1576.0,1085.0 L1576.7,1085.1 L1577.3,1085.2 L1578.0,1088.4 L1578.6,1091.8 L1579.2,1095.1 L1579.7,1095.3 L1580.1,1095.6 L1580.6,1095.9 L1581.0,1098.1 L1581.4,1101.2 L1581.8,1104.4 L1582.2,1105.9 L1582.6,1105.7 L1583.1,1105.6 L1583.6,1107.9 L1584.2,1111.1 L1584.9,1113.7 L1585.7,1113.7 L1586.4,1113.7 L1587.3,1114.6 L1588.1,1117.3 L1589.0,1120.0 L1589.9,1122.3 L1590.8,1122.5 L1591.7,1122.7 L1593.1,1122.8 L1594.6,1124.3 L1596.1,1127.2 L1597.6,1129.0 L1598.9,1128.4 L1600.0,1128.7 L1600.7,1130.1 L1601.2,1132.3 L1601.6,1134.7 L1601.9,1136.6 L1602.2,1137.0 L1602.5,1137.7 L1602.7,1140.3 L1602.9,1142.9 L1603.2,1145.4 L1603.4,1146.2 L1603.8,1146.9 L1604.1,1147.6 L1604.5,1149.6 L1604.8,1152.3 L1605.2,1154.8 L1605.5,1155.8 L1605.9,1156.9 L1606.2,1157.9 L1606.6,1159.6 L1607.0,1162.1 L1607.3,1164.6 L1607.7,1166.8 L1608.1,1168.3 L1608.4,1169.7 L1608.8,1171.2 L1609.1,1172.3 L1609.5,1173.0 L1609.9,1173.7 L1610.2,1175.6 L1610.6,1178.3 L1611.0,1181.0 L1611.3,1182.7 L1611.7,1183.5 L1612.1,1184.3 L1612.4,1185.1 L1612.8,1186.7 L1613.1,1189.3 L1613.5,1191.9 L1613.8,1194.1 L1614.1,1194.4 L1614.5,1194.6 L1614.8,1197.1 L1615.1,1199.9 L1615.4,1202.0 L1615.7,1202.9 L1616.1,1203.8 L1616.4,1205.1 L1616.7,1206.5 L1617.1,1207.8 L1617.5,1209.0 L1618.5,1212.4 L1619.4,1215.3 L1620.5,1216.5 L1621.3,1215.5 L1622.1,1213.4 L1622.9,1210.5 L1623.8,1208.8 L1624.6,1208.2 L1625.5,1206.8 L1626.3,1205.7 L1627.0,1205.6 L1627.7,1205.9 L1628.4,1208.4 L1629.1,1211.5 L1629.8,1214.6 L1630.4,1215.5 L1631.0,1216.4 L1631.6,1216.9 L1632.0,1217.5 L1632.3,1217.5 L1632.5,1217.2 L1632.7,1216.9 L1632.8,1216.3 L1632.9,1215.7 L1633.0,1215.0 L1633.0,1213.0 L1633.0,1210.2 L1633.1,1207.3 L1633.1,1206.6 L1633.0,1205.9 L1633.0,1203.9 L1633.0,1200.8 L1633.0,1197.6 L1633.0,1196.0 L1633.0,1194.7 L1633.0,1193.5 L1633.0,1191.6 L1633.1,1189.7 L1633.2,1186.6 L1633.3,1183.8 L1633.4,1181.1 L1633.6,1180.5 L1633.8,1179.9 L1634.2,1179.1 L1634.7,1176.3 L1635.2,1173.6 L1635.8,1171.7 L1636.3,1170.8 L1636.9,1169.9 L1637.6,1169.1 L1638.2,1167.5 L1638.8,1165.2 L1639.6,1162.6 L1640.5,1160.5 L1641.4,1160.0 L1642.3,1159.5 L1643.1,1158.3 L1643.8,1155.1 L1644.0,1153.4 L1644.2,1151.6 L1644.4,1149.8 L1644.4,1149.2 L1644.5,1148.6 L1644.5,1147.3 L1644.5,1144.6 L1644.5,1141.9 L1644.4,1140.0 L1644.4,1139.3 L1644.3,1138.1 L1644.2,1135.5 L1644.1,1132.8 L1644.0,1131.0 L1644.0,1130.3 L1643.9,1129.2 L1643.9,1126.4 L1643.9,1123.6 L1643.9,1121.5 L1644.0,1120.7 L1644.1,1120.0 L1644.3,1119.3 L1644.5,1118.3 L1644.7,1116.3 L1645.0,1114.7 L1646.2,1112.5 L1647.5,1112.7 L1648.9,1112.5 L1650.0,1110.0 L1650.5,1108.2 L1650.9,1106.2 L1651.2,1105.6 L1651.4,1105.0 L1651.6,1104.3 L1651.8,1102.4 L1651.9,1099.6 L1652.0,1096.8 L1652.2,1095.8 L1652.3,1095.0 L1652.6,1093.4 L1652.7,1091.0 L1652.9,1088.4 L1653.1,1087.8 L1653.2,1087.2 L1653.4,1084.3 L1653.6,1080.8 L1653.8,1079.3 L1654.0,1078.6 L1654.2,1075.8 L1654.4,1072.9 L1654.5,1069.9 L1654.7,1068.9 L1654.9,1068.2 L1655.1,1065.8 L1655.3,1063.0 L1655.4,1060.3 L1655.6,1059.0 L1655.7,1058.4 L1655.9,1057.8 L1656.0,1057.4 L1656.1,1057.1 L1656.2,1056.9 L1656.3,1056.7 L1656.6,1058.3 L1656.8,1058.0 L1656.9,1057.3 L1657.0,1056.2 L1657.2,1054.7 L1657.3,1053.0 L1657.5,1050.9 L1657.6,1048.7 L1657.8,1045.8 L1658.0,1042.4 L1658.2,1040.2 L1658.4,1039.0 L1658.6,1037.8 L1658.8,1035.4 L1659.0,1032.6 L1659.1,1030.3 L1659.5,1028.5 L1659.8,1027.2 L1660.1,1025.7 L1660.5,1023.4 L1661.0,1022.3 L1661.8,1022.5 L1662.7,1024.9 L1663.7,1028.4 L1664.7,1031.0 L1665.4,1031.3 L1665.7,1030.9 L1665.9,1030.1 L1666.1,1029.0 L1666.2,1027.5 L1666.3,1025.7 L1666.4,1023.9 L1666.4,1023.2 L1666.4,1022.5 L1666.4,1021.2 L1666.4,1017.9 L1666.3,1014.5 L1666.3,1013.1 L1666.2,1012.2 L1666.2,1009.7 L1666.1,1006.8 L1666.1,1004.1 L1666.0,1003.2 L1666.0,1002.3 L1666.0,1000.9 L1666.0,998.3 L1666.1,995.6 L1666.0,992.6 L1666.0,991.1 L1665.9,990.1 L1665.8,989.1 L1665.8,987.2 L1665.7,985.1 L1665.6,982.9 L1665.5,979.7 L1665.5,976.5 L1665.5,974.3 L1665.5,973.8 L1665.5,973.3 L1665.6,971.6 L1665.8,970.0 L1666.0,968.7 L1666.3,967.8 L1666.7,967.2 L1667.8,967.3 L1669.2,969.6 L1670.6,972.4 L1671.7,973.5 L1672.0,973.4 L1672.3,972.9 L1672.4,971.4 L1672.5,969.5 L1672.6,967.2 L1672.6,964.8 L1672.5,964.1 L1672.4,963.4 L1672.4,961.7 L1672.2,958.6 L1672.1,955.5 L1672.1,953.3 L1672.0,952.6 L1671.9,951.3 L1671.9,948.5 L1672.0,945.9 L1672.1,943.6 L1672.3,942.8 L1672.8,942.1 L1673.4,941.4 L1674.0,939.6 L1674.7,937.4 L1675.4,935.4 L1676.7,933.4 L1677.9,933.3 L1678.4,934.0 L1678.8,935.4 L1679.2,937.3 L1679.5,939.4 L1679.9,940.4 L1680.2,941.6 L1680.5,942.9 L1680.8,946.2 L1681.1,949.5 L1681.4,952.2 L1681.7,953.1 L1682.0,953.9 L1682.3,954.8 L1682.6,957.5 L1682.9,960.2 L1683.2,962.8 L1683.5,964.7 L1683.8,966.6 L1684.1,967.8 L1684.4,968.5 L1684.7,969.2 L1685.1,970.3 L1685.5,972.4 L1686.1,975.1 L1686.7,977.4 L1687.4,978.1 L1688.1,978.8 L1688.6,979.7 L1688.9,980.5 L1689.1,982.5 L1689.3,984.7 L1689.4,987.0 L1689.5,989.1 L1689.6,990.0 L1689.7,990.8 L1689.8,992.1 L1689.9,994.6 L1690.1,997.1 L1690.3,999.6 L1690.5,1000.9 L1690.7,1001.8 L1691.1,1002.7 L1691.4,1003.8 L1691.8,1006.8 L1692.2,1009.7 L1692.6,1011.8 L1693.0,1012.0 L1693.3,1012.4 L1693.7,1015.6 L1694.0,1018.7 L1694.2,1019.9 L1694.4,1020.6 L1694.6,1021.2 L1694.7,1023.1 L1694.8,1025.7 L1694.9,1028.3 L1695.0,1030.8 L1695.1,1031.3 L1695.1,1031.8 L1695.2,1032.9 L1695.3,1035.3 L1695.5,1037.7 L1695.6,1040.2 L1695.8,1042.0 L1696.0,1042.9 L1696.2,1043.7 L1696.4,1046.1 L1696.6,1048.7 L1696.8,1050.6 L1697.0,1051.4 L1697.2,1052.3 L1697.4,1053.1 L1697.7,1054.6 L1698.0,1057.4 L1698.3,1060.1 L1698.6,1063.1 L1698.9,1064.0 L1699.2,1064.7 L1699.5,1065.5 L1699.9,1067.7 L1700.2,1070.0 L1700.5,1072.1 L1700.9,1073.8 L1701.1,1075.4 L1701.3,1076.8 L1701.5,1078.1 L1701.6,1080.2 L1701.7,1082.2 L1701.8,1083.8 L1701.9,1085.2 L1702.1,1086.6 L1702.2,1088.4 L1702.4,1090.6 L1702.6,1093.0 L1702.7,1094.3 L1702.9,1095.3 L1703.1,1096.3 L1703.2,1097.9 L1703.4,1099.6 L1703.6,1101.4 L1703.8,1103.2 L1704.1,1104.6 L1704.3,1106.0 L1704.5,1107.6 L1704.7,1109.7 L1705.0,1111.8 L1705.2,1113.3 L1705.5,1114.7 L1705.7,1116.1 L1705.9,1117.8 L1706.2,1119.8 L1706.4,1121.8 L1706.7,1123.7 L1706.9,1125.3 L1707.1,1126.7 L1707.4,1128.1 L1707.6,1129.9 L1707.8,1131.8 L1708.0,1133.7 L1708.2,1135.1 L1708.4,1136.5 L1708.7,1137.9 L1708.9,1139.3 L1709.1,1141.2 L1709.3,1143.1 L1709.5,1145.0 L1709.7,1146.9 L1710.0,1148.3 L1710.2,1149.7 L1710.4,1151.1 L1710.6,1152.5 L1710.8,1154.4 L1711.1,1156.3 L1711.3,1158.2 L1711.5,1159.8 L1711.7,1161.2 L1711.9,1162.5 L1712.1,1164.1 L1712.4,1166.0 L1712.6,1168.0 L1712.8,1169.7 L1713.0,1171.2 L1713.2,1172.7 L1713.4,1174.1 L1713.6,1175.5 L1713.9,1177.0 L1714.1,1178.4 L1714.3,1180.1 L1714.5,1181.8 L1714.7,1183.4 L1714.9,1185.2 L1715.1,1187.1 L1715.3,1189.0 L1715.5,1191.0 L1715.7,1192.2 L1716.0,1193.4 L1716.2,1194.8 L1716.4,1196.5 L1716.6,1198.2 L1716.9,1200.2 L1717.1,1202.1 L1717.3,1203.5 L1717.6,1204.8 L1717.8,1206.2 L1718.1,1208.2 L1718.3,1210.2 L1718.6,1212.2 L1718.8,1213.7 L1719.1,1215.1 L1719.4,1216.5 L1719.6,1218.1 L1719.9,1220.1 L1720.2,1222.1 L1720.4,1223.5 L1720.7,1225.0 L1721.0,1226.4 L1721.2,1228.0 L1721.5,1229.9 L1721.8,1231.8 L1722.1,1233.6 L1722.4,1234.9 L1722.7,1236.2 L1723.0,1237.6 L1723.2,1239.1 L1723.5,1240.7 L1723.8,1242.2 L1724.2,1244.1 L1724.5,1246.1 L1724.9,1248.0 L1725.2,1250.0 L1725.6,1251.3 L1725.9,1252.6 L1726.3,1253.9 L1726.6,1255.7 L1727.0,1257.7 L1727.4,1259.5 L1727.7,1260.8 L1728.1,1262.0 L1728.5,1263.3 L1728.9,1265.1 L1729.3,1266.9 L1729.7,1268.7 L1730.1,1270.4 L1730.5,1271.8 L1730.9,1273.1 L1731.4,1274.5 L1731.8,1276.5 L1732.3,1278.7 L1732.7,1280.2 L1733.2,1281.5 L1733.6,1282.7 L1734.1,1284.5 L1734.6,1286.4 L1735.0,1288.3 L1735.5,1289.7 L1736.0,1290.9 L1736.5,1292.1 L1737.1,1293.3 L1737.6,1294.7 L1738.3,1296.8 L1739.0,1298.9 L1739.7,1300.3 L1740.5,1301.6 L1741.2,1302.8 L1742.0,1304.2 L1742.8,1305.8 L1743.5,1307.4 L1744.3,1309.0 L1745.1,1310.5 L1745.9,1311.7 L1746.7,1312.8 L1747.6,1313.9 L1748.4,1315.5 L1749.3,1317.1 L1750.1,1318.7 L1751.0,1320.2 L1751.8,1321.3 L1752.6,1322.4 L1753.3,1323.8 L1754.0,1325.6 L1754.8,1327.3 L1755.5,1328.9 L1756.1,1330.2 L1756.8,1331.6 L1757.5,1333.0 L1758.2,1334.9 L1758.8,1336.8 L1759.5,1338.8 L1760.1,1340.4 L1760.6,1341.5 L1761.1,1342.6 L1761.6,1344.4 L1762.1,1346.2 L1762.5,1348.0 L1763.0,1349.5 L1763.5,1350.9 L1763.9,1352.3 L1764.4,1353.7 L1764.8,1355.3 L1765.3,1356.8 L1765.7,1358.7 L1766.2,1360.7 L1766.7,1362.5 L1767.1,1363.6 L1767.6,1364.8 L1768.1,1366.6 L1768.6,1368.6 L1769.2,1370.7 L1769.7,1372.1 L1770.2,1373.4 L1770.7,1374.7 L1771.3,1376.3 L1771.8,1378.3 L1772.3,1380.3 L1772.9,1381.8 L1773.4,1383.0 L1774.0,1384.3 L1774.5,1385.8 L1775.1,1387.7 L1775.8,1389.9 L1776.4,1391.1 L1777.1,1392.2 L1777.7,1394.2 L1778.4,1396.3 L1779.1,1397.9 L1779.7,1399.1 L1780.4,1400.5 L1781.1,1402.3 L1781.9,1404.0 L1782.6,1405.6 L1783.5,1407.2 L1784.4,1408.6 L1785.3,1409.9 L1786.2,1411.3 L1787.2,1413.1 L1788.2,1414.8 L1789.1,1415.7 L1790.1,1416.2 L1791.8,1416.9 L1793.5,1417.7 L1795.1,1418.0 L1796.4,1417.3 L1797.7,1415.8 L1798.9,1413.9 L1800.1,1412.4 L1800.9,1411.6 L1801.6,1410.6 L1802.4,1409.1 L1803.1,1407.2 L1803.9,1405.2 L1804.6,1404.0 L1805.4,1402.7 L1806.1,1401.2 L1806.9,1399.3 L1807.6,1397.4 L1808.4,1395.9 L1809.1,1394.6 L1809.9,1393.4 L1810.6,1392.1 L1811.4,1390.2 L1812.1,1388.3 L1812.9,1386.8 L1813.6,1385.7 L1814.4,1384.6 L1815.1,1382.9 L1815.9,1381.1 L1816.6,1379.2 L1817.3,1378.0 L1818.0,1376.8 L1818.7,1375.5 L1819.4,1373.6 L1820.2,1371.7 L1820.9,1370.0 L1821.8,1368.9 L1822.6,1368.0 L1823.5,1366.7 L1824.4,1365.1 L1825.4,1363.6 L1826.3,1362.1 L1827.3,1360.9 L1828.3,1359.8 L1829.4,1358.8 L1830.4,1357.8 L1831.5,1356.6 L1832.6,1355.2 L1833.8,1353.9 L1835.0,1352.7 L1836.3,1351.6 L1837.6,1351.1 L1838.9,1350.5 L1840.2,1349.3 L1841.5,1347.9 L1842.8,1347.0 L1844.0,1346.4 L1845.1,1345.6 L1846.2,1344.1 L1847.3,1342.5 L1848.3,1341.0 L1849.3,1339.7 L1850.3,1338.4 L1851.3,1337.1 L1852.2,1336.1 L1853.2,1335.0 L1854.2,1334.0 L1855.1,1333.0 L1856.3,1331.4 L1857.4,1330.0 L1858.6,1328.5 L1859.7,1327.5 L1860.8,1326.6 L1861.9,1325.6 L1862.9,1324.3 L1863.9,1322.7 L1864.7,1321.2 L1865.4,1319.6 L1866.1,1318.1 L1866.7,1316.8 L1867.3,1315.5 L1867.9,1314.1 L1868.4,1312.5 L1869.0,1310.7 L1869.6,1308.8 L1870.1,1307.3 L1870.8,1306.0 L1871.3,1304.5 L1871.9,1303.1 L1872.4,1301.1 L1873.0,1299.1 L1873.6,1297.4 L1874.3,1296.3 L1875.1,1295.3 L1876.4,1294.1 L1877.9,1292.6 L1879.5,1291.3 L1881.1,1290.5 L1882.7,1290.1 L1884.5,1290.1 L1886.4,1289.7 L1888.3,1289.3 L1890.2,1288.5 L1891.5,1287.7 L1892.7,1286.8 L1893.9,1285.8 L1895.1,1284.7 L1896.4,1283.6 L1897.7,1282.7 L1899.6,1281.9 L1901.6,1281.4 L1903.5,1282.1 L1905.2,1283.2 L1906.1,1283.7 L1906.8,1284.6 L1907.5,1285.7 L1908.0,1287.8 L1908.6,1290.1 L1909.1,1291.7 L1909.6,1293.1 L1910.2,1295.0 L1910.7,1296.8 L1911.2,1298.8 L1911.7,1300.4 L1912.2,1301.7 L1912.7,1303.2 L1913.2,1305.4 L1913.8,1307.5 L1914.5,1308.7 L1915.2,1309.9 L1916.1,1311.2 L1917.2,1312.6 L1918.3,1313.9 L1919.5,1315.4 L1920.7,1317.1 L1921.7,1318.8 L1922.7,1320.1 L1923.3,1321.2 L1923.8,1322.6 L1924.3,1324.2 L1924.7,1325.8 L1925.1,1327.7 L1925.5,1329.8 L1925.9,1331.9 L1926.2,1333.9 L1926.6,1335.3 L1926.9,1336.8 L1927.3,1338.3 L1927.7,1340.2 L1928.1,1342.4 L1928.5,1344.0 L1928.9,1345.5 L1929.4,1346.9 L1929.8,1348.6 L1930.3,1350.3 L1930.8,1351.7 L1931.4,1353.0 L1933.1,1354.4 L1935.2,1354.9 L1936.9,1354.3 L1938.9,1353.5 L1941.0,1352.8 L1942.7,1353.0 L1943.6,1353.6 L1944.3,1354.4 L1945.0,1355.5 L1945.6,1357.5 L1946.1,1359.8 L1946.6,1361.7 L1947.1,1363.2 L1947.7,1364.7 L1948.2,1366.5 L1948.6,1368.4 L1949.1,1370.2 L1949.5,1371.5 L1949.9,1372.8 L1950.4,1374.4 L1950.8,1376.0 L1951.2,1377.7 L1951.7,1379.5 L1952.2,1381.3 L1952.7,1382.9 L1953.4,1384.7 L1954.1,1386.2 L1954.9,1388.1 L1955.7,1390.3 L1956.6,1391.8 L1957.7,1392.7 L1959.4,1393.5 L1961.3,1394.4 L1963.3,1395.2 L1965.2,1395.5 L1966.7,1395.0 L1968.3,1393.9 L1969.8,1392.5 L1971.3,1391.3 L1972.7,1390.2 L1973.6,1389.3 L1974.5,1388.1 L1975.3,1386.4 L1976.1,1384.7 L1976.9,1383.0 L1977.7,1381.7 L1978.5,1380.5 L1979.3,1379.3 L1980.2,1377.8 L1981.4,1376.1 L1982.7,1374.8 L1984.1,1373.9 L1985.4,1373.1 L1986.6,1371.9 L1987.7,1370.1 L1988.5,1368.4 L1989.1,1366.7 L1989.7,1365.4 L1990.2,1364.0 L1990.7,1362.5 L1991.2,1360.7 L1991.7,1358.5 L1992.2,1356.3 L1992.7,1354.8 L1993.3,1353.5 L1993.8,1352.1 L1994.3,1350.7 L1994.9,1348.8 L1995.4,1346.9 L1995.9,1345.0 L1996.5,1343.2 L1997.1,1341.8 L1997.7,1340.4 L1998.2,1339.2 L1998.8,1337.4 L1999.3,1335.5 L1999.9,1333.7 L2000.4,1332.5 L2001.0,1331.2 L2001.6,1330.0 L2002.2,1328.1 L2002.8,1326.3 L2003.4,1324.4 L2004.0,1322.7 L2004.6,1321.5 L2005.2,1320.3 L2005.9,1318.9 L2006.5,1317.4 L2007.2,1315.7 L2007.9,1313.8 L2008.5,1311.8 L2009.2,1309.8 L2009.9,1308.5 L2010.6,1307.2 L2011.3,1305.9 L2012.0,1304.2 L2012.7,1302.6 L2013.5,1300.8 L2014.3,1299.2 L2015.1,1298.0 L2016.0,1296.9 L2016.8,1295.7 L2017.6,1294.4 L2018.5,1292.8 L2019.3,1291.2 L2020.2,1289.9 L2021.3,1288.7 L2022.3,1287.4 L2023.4,1285.6 L2024.4,1283.8 L2025.5,1282.6 L2026.6,1281.6 L2027.7,1280.6 L2028.9,1279.0 L2030.2,1277.5 L2031.5,1276.1 L2032.7,1275.1 L2034.0,1274.1 L2035.2,1273.0 L2036.3,1271.6 L2037.4,1269.9 L2038.5,1268.2 L2039.6,1267.1 L2040.7,1265.9 L2041.7,1264.7 L2042.7,1262.8 L2043.5,1261.1 L2044.2,1259.4 L2044.9,1257.7 L2045.6,1256.4 L2046.3,1255.0 L2047.0,1253.6 L2047.7,1252.1 L2048.5,1250.6 L2049.3,1249.2 L2050.2,1248.0 L2051.5,1246.7 L2052.9,1245.6 L2054.4,1244.6 L2056.0,1243.6 L2057.5,1242.4 L2058.9,1241.1 L2060.2,1239.6 L2061.2,1238.6 L2062.0,1237.5 L2062.8,1236.2 L2063.6,1234.5 L2064.3,1232.7 L2065.0,1231.0 L2065.8,1229.6 L2066.7,1228.7 L2067.7,1228.0 L2069.3,1226.6 L2071.0,1225.2 L2072.9,1224.0 L2074.7,1223.4 L2076.3,1223.5 L2077.7,1224.0 L2078.6,1224.8 L2079.4,1225.8 L2080.0,1226.9 L2080.6,1228.1 L2081.1,1229.6 L2081.5,1231.4 L2081.9,1233.7 L2082.3,1236.0 L2082.7,1238.1 L2083.1,1239.3 L2083.3,1240.5 L2083.6,1241.9 L2083.8,1243.3 L2084.1,1245.2 L2084.3,1247.2 L2084.5,1249.1 L2084.7,1250.6 L2084.8,1252.1 L2085.0,1253.9 L2085.2,1256.1 L2085.4,1258.2 L2085.5,1259.9 L2085.7,1261.6 L2085.9,1263.3 L2086.1,1264.6 L2086.3,1265.8 L2086.5,1267.1 L2086.8,1269.4 L2087.0,1271.8 L2087.3,1274.2 L2087.5,1276.2 L2087.8,1278.0 L2088.1,1279.6 L2088.4,1281.0 L2088.7,1282.6 L2089.0,1284.0 L2089.4,1284.9 L2089.7,1285.3 L2090.3,1285.1 L2090.9,1284.2 L2091.5,1282.6 L2092.2,1280.5 L2092.8,1278.3 L2093.5,1276.6 L2094.1,1274.9 L2094.7,1272.8 L2095.0,1271.0 L2095.4,1269.1 L2095.7,1267.5 L2095.9,1266.1 L2096.2,1264.7 L2096.4,1263.1 L2096.7,1261.2 L2097.0,1259.3 L2097.4,1257.6 L2097.8,1256.1 L2098.4,1255.1 L2099.5,1253.8 L2100.7,1252.1 L2102.0,1249.9 L2103.4,1248.4 L2104.7,1248.4 L2105.5,1249.3 L2106.4,1251.0 L2107.2,1252.5 L2108.0,1253.1 L2108.8,1254.1 L2109.7,1256.6 L2110.5,1259.0 L2111.3,1261.0 L2112.2,1262.3 L2113.7,1264.2 L2115.3,1265.5 L2117.2,1265.3 L2118.4,1264.5 L2119.9,1263.2 L2121.5,1262.9 L2123.1,1262.5 L2124.8,1260.8 L2126.5,1258.9 L2128.1,1258.2 L2129.7,1258.6 L2130.9,1259.3 L2132.0,1260.5 L2133.2,1261.4 L2134.3,1262.0 L2135.4,1262.7 L2136.5,1264.6 L2137.6,1267.1 L2138.7,1268.8 L2139.9,1269.6 L2141.0,1270.4 L2142.2,1272.4 L2143.3,1274.1 L2144.4,1275.9 L2145.6,1277.3 L2146.7,1278.6 L2147.9,1279.6 L2149.1,1280.2 L2150.3,1280.8 L2151.4,1282.0 L2152.6,1284.0 L2153.8,1286.0 L2154.9,1287.0 L2156.1,1287.7 L2157.2,1288.3 L2158.4,1289.0 L2159.5,1290.3 L2160.7,1291.6 L2161.8,1293.0 L2163.0,1295.0 L2164.1,1297.1 L2165.2,1298.6 L2166.3,1299.3 L2167.4,1300.0 L2168.6,1300.7 L2169.7,1302.0 L2170.7,1303.8 L2171.8,1305.8 L2172.8,1307.5 L2173.9,1308.2 L2174.9,1308.9 L2176.0,1309.7 L2177.0,1310.9 L2178.0,1312.7 L2179.1,1314.3 L2180.1,1315.9 L2181.1,1317.1 L2182.2,1317.6 L2183.8,1318.2 L2185.6,1320.3 L2187.5,1322.4 L2189.3,1324.1 L2190.8,1324.2 L2191.8,1324.2 L2192.2,1325.2"/>
</g>
<line x1="1614.7" y1="81.0" x2="1775.0" y2="81.0" stroke="#000000" stroke-width="11.7" stroke-linecap="round"/>
<line x1="1614.7" y1="173.0" x2="1775.0" y2="173.0" stroke="#c00000" stroke-width="11.7" stroke-linecap="round"/>
<line x1="1614.7" y1="263.7" x2="1775.0" y2="263.7" stroke="#0070c0" stroke-width="11.7" stroke-linecap="round"/>
<text class="leg" x="1790.9" y="100.8">Neem</text>
<text class="leg" x="1790.9" y="192.7">ZnO+Neem</text>
<text class="leg" x="1790.9" y="284.0">Ag+Neem</text>
<text class="tick" transform="translate(250.1,1540.2) scale(1,1.03)" x="0" y="0">3800</text>
<text class="tick" transform="translate(496.7,1540.2) scale(1,1.03)" x="0" y="0">3400</text>
<text class="tick" transform="translate(743.3,1540.2) scale(1,1.03)" x="0" y="0">3000</text>
<text class="tick" transform="translate(989.9,1540.2) scale(1,1.03)" x="0" y="0">2600</text>
<text class="tick" transform="translate(1236.4,1540.2) scale(1,1.03)" x="0" y="0">2200</text>
<text class="tick" transform="translate(1483.0,1540.2) scale(1,1.03)" x="0" y="0">1800</text>
<text class="tick" transform="translate(1729.6,1540.2) scale(1,1.03)" x="0" y="0">1400</text>
<text class="tick" transform="translate(1976.2,1540.2) scale(1,1.03)" x="0" y="0">1000</text>
<text class="tick" transform="translate(2222.8,1540.2) scale(1,1.03)" x="0" y="0">600</text>
<text class="title" x="1175.5" y="1660.9">Wavenumber (cm<tspan font-size="56.5px" dy="-24.8">-1</tspan><tspan dy="24.8">)</tspan></text>
<text class="title" transform="translate(98.4,721.3) rotate(-90)" x="0" y="0">Transmitance %</text>
</svg>
</body></html>
